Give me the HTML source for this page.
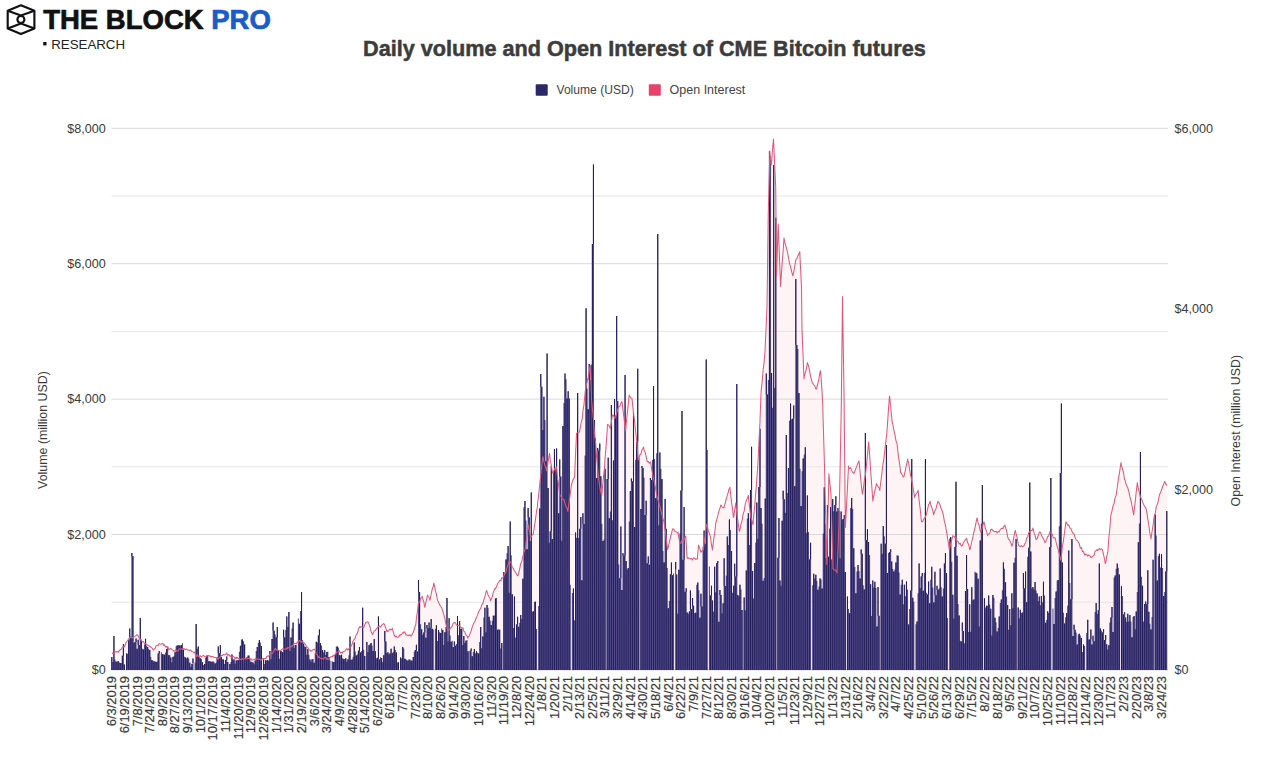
<!DOCTYPE html>
<html><head><meta charset="utf-8">
<style>
html,body{margin:0;padding:0;background:#fff;}
body{width:1280px;height:776px;overflow:hidden;position:relative;font-family:"Liberation Sans",sans-serif;}
svg{position:absolute;left:0;top:0;}
</style></head><body>
<svg width="1280" height="776" viewBox="0 0 1280 776" font-family="Liberation Sans, sans-serif">
<g fill="none" stroke="#111" stroke-width="2.15" stroke-linejoin="round">
<path d="M20.9 5.3 L34.4 10.8 L34.4 28.4 L20.9 34 L7.7 28.4 L7.7 10.8 Z"/>
<path d="M7.7 10.8 L20.9 15.4 L34.4 10.8"/>
<path d="M7.7 28.4 L20.9 23.6 L34.4 28.4"/>
<circle cx="20.9" cy="19.5" r="3.5"/>
</g>
<text x="43.2" y="29.3" font-size="27.5" font-weight="bold" fill="#111" stroke="#111" stroke-width="0.7">THE BLOCK <tspan fill="#1a5cc8" stroke="#1a5cc8">PRO</tspan></text>
<rect x="43.2" y="42" width="3.3" height="3.4" fill="#111"/>
<text x="51.2" y="48.7" font-size="13.3" fill="#222">RESEARCH</text>
<text x="644.4" y="55.6" font-size="21.65" font-weight="bold" fill="#3c3c3c" stroke="#3c3c3c" stroke-width="0.5" text-anchor="middle">Daily volume and Open Interest of CME Bitcoin futures</text>
<rect x="535.7" y="84.2" width="12" height="11.6" rx="1" fill="#2c2866"/>
<text x="556.5" y="94" font-size="12.5" fill="#444" textLength="77.2" lengthAdjust="spacingAndGlyphs">Volume (USD)</text>
<rect x="648.8" y="84.2" width="12" height="11.6" rx="1" fill="#e6426a"/>
<text x="669.6" y="94" font-size="12.5" fill="#444">Open Interest</text>
<path d="M111.8 653.0 L112.3 652.9 L112.9 653.8 L113.9 652.8 L115.0 651.5 L116.0 651.9 L117.1 651.4 L118.2 652.5 L119.2 650.5 L119.3 651.0 L120.3 649.6 L121.3 649.4 L122.4 647.0 L123.4 647.2 L124.0 646.4 L124.5 646.8 L125.5 644.0 L126.6 641.6 L127.6 640.5 L128.6 639.0 L128.7 639.1 L129.7 637.8 L130.8 637.4 L131.8 637.2 L132.3 638.0 L132.9 637.2 L134.0 636.9 L135.0 636.1 L136.1 635.5 L137.1 634.6 L137.8 635.3 L138.2 635.9 L139.2 638.2 L140.3 639.0 L141.3 640.4 L142.4 642.0 L142.5 641.8 L143.4 641.6 L144.5 643.5 L145.6 643.5 L146.6 644.4 L147.0 644.5 L147.7 645.3 L148.7 645.8 L149.8 646.3 L150.8 647.0 L151.9 647.8 L152.9 649.5 L153.6 650.0 L154.0 649.2 L155.0 648.5 L156.1 645.8 L157.1 645.5 L158.2 645.6 L158.3 644.5 L159.2 643.6 L160.3 644.3 L161.4 643.9 L162.4 643.2 L163.0 643.6 L163.5 645.4 L164.5 644.7 L165.6 647.0 L166.6 646.5 L167.5 648.3 L167.7 647.2 L168.7 649.7 L169.8 649.0 L170.8 648.4 L171.9 649.6 L172.9 650.1 L174.0 651.3 L175.0 651.0 L175.1 650.0 L176.1 650.0 L177.2 651.5 L178.2 650.7 L179.3 648.8 L180.3 649.0 L181.4 648.7 L182.4 649.2 L183.5 648.8 L184.0 648.3 L184.6 649.4 L185.6 649.6 L186.7 649.1 L187.7 650.0 L188.8 650.3 L189.8 650.6 L190.0 650.0 L190.9 650.3 L191.9 651.6 L193.0 651.8 L194.0 652.8 L194.6 652.0 L195.1 652.8 L195.6 655.7 L196.1 656.7 L197.2 654.4 L198.2 656.4 L199.3 655.9 L200.3 655.7 L201.4 656.9 L202.5 655.9 L203.5 655.5 L204.6 656.4 L205.6 656.7 L206.7 656.0 L207.7 655.4 L208.6 655.7 L208.8 655.6 L209.8 656.0 L210.9 657.0 L211.9 656.2 L213.0 656.8 L214.1 657.5 L215.1 657.4 L216.2 657.5 L217.2 659.1 L217.8 658.5 L218.3 659.1 L219.3 657.6 L220.4 656.9 L221.4 655.6 L222.5 655.4 L223.5 654.4 L224.6 654.9 L225.7 654.3 L226.2 653.8 L226.7 652.9 L227.8 655.5 L228.8 654.4 L229.9 656.2 L230.8 655.7 L230.9 656.6 L232.0 657.5 L233.0 656.0 L234.1 657.1 L235.1 658.9 L236.2 657.1 L236.4 658.5 L237.2 657.3 L238.3 658.7 L239.3 658.5 L240.4 659.6 L241.5 659.2 L242.5 658.6 L243.6 659.8 L244.6 658.5 L245.7 658.5 L245.7 658.5 L246.7 659.1 L247.8 658.4 L248.8 658.4 L249.9 659.2 L250.9 658.6 L252.0 660.3 L253.1 659.7 L254.1 659.4 L255.0 659.4 L255.2 658.3 L256.2 659.0 L257.3 658.9 L258.3 659.2 L259.4 659.2 L260.4 659.9 L261.5 660.0 L262.5 658.6 L263.6 658.4 L264.2 658.5 L264.6 658.5 L265.7 658.8 L266.8 656.3 L267.8 656.1 L268.9 656.1 L269.9 653.7 L270.0 654.5 L271.0 653.1 L272.0 653.7 L273.1 652.3 L274.1 650.4 L275.2 648.3 L275.6 648.9 L276.2 650.1 L277.3 649.7 L278.3 650.3 L279.4 650.9 L280.4 650.9 L281.2 650.0 L281.5 649.7 L282.6 648.8 L283.6 649.0 L284.7 649.3 L285.7 649.1 L286.8 648.1 L286.8 648.9 L287.8 647.4 L288.9 648.0 L289.9 647.3 L291.0 646.0 L292.0 647.0 L292.4 645.5 L293.1 645.4 L294.1 643.2 L295.2 643.5 L296.3 643.8 L297.3 641.9 L298.0 642.0 L298.4 642.4 L299.4 640.4 L300.5 640.9 L301.5 642.1 L302.5 641.0 L302.6 641.3 L303.6 642.9 L304.7 643.1 L305.7 645.3 L305.9 645.5 L306.8 646.9 L307.9 647.6 L308.9 650.0 L309.2 650.0 L310.0 650.1 L311.0 651.3 L312.1 650.2 L313.1 649.8 L314.2 649.0 L314.8 650.0 L315.2 650.1 L316.3 654.1 L317.3 654.8 L318.2 657.8 L318.4 656.8 L319.4 657.1 L320.5 658.1 L321.6 659.0 L322.6 658.6 L323.7 659.2 L323.8 658.4 L324.7 657.4 L325.8 657.4 L326.8 659.5 L327.9 658.5 L328.3 659.0 L328.9 659.2 L330.0 657.7 L331.0 656.7 L332.1 656.4 L332.7 656.7 L333.1 655.2 L334.2 656.2 L335.2 654.2 L336.3 652.5 L337.2 652.0 L337.4 651.9 L338.4 651.7 L339.5 650.8 L340.5 653.0 L341.6 652.2 L342.6 653.2 L342.8 652.0 L343.7 651.4 L344.7 651.2 L345.8 649.7 L346.9 648.6 L347.9 650.3 L348.4 648.9 L348.9 649.3 L350.0 647.5 L350.0 647.0 L351.1 646.4 L352.1 644.1 L353.2 640.7 L354.2 639.4 L355.3 638.2 L355.3 637.0 L356.3 634.6 L357.4 633.4 L358.4 629.2 L359.5 627.1 L359.9 626.5 L360.6 627.3 L361.6 626.5 L362.7 627.1 L363.1 627.8 L363.7 627.6 L364.8 624.5 L365.8 622.5 L365.8 623.3 L366.9 621.8 L367.9 621.7 L368.4 622.5 L369.0 623.9 L370.0 626.7 L371.1 631.9 L372.1 633.4 L372.3 634.4 L373.2 633.4 L374.2 630.8 L375.3 630.4 L376.3 629.0 L376.4 628.7 L377.4 628.0 L378.5 626.5 L379.5 626.0 L380.6 627.1 L381.6 625.2 L382.7 624.3 L383.7 623.5 L384.2 624.0 L384.8 625.2 L385.8 628.2 L386.8 631.7 L386.9 630.4 L387.9 631.5 L389.0 630.1 L390.1 629.1 L391.1 630.0 L392.0 629.0 L392.2 628.3 L393.2 631.4 L394.3 635.4 L395.3 637.0 L395.3 636.0 L396.4 636.5 L397.4 637.3 L398.5 636.9 L399.5 634.9 L399.9 635.7 L400.6 634.6 L401.6 634.5 L402.7 632.6 L403.8 633.0 L403.9 631.7 L404.8 631.9 L405.9 634.9 L406.9 634.8 L407.8 635.7 L408.0 635.0 L409.0 635.6 L410.1 634.7 L411.1 636.2 L411.7 635.7 L412.2 633.8 L413.2 632.6 L414.3 629.0 L415.4 625.6 L415.7 625.0 L416.4 618.7 L417.5 611.1 L418.3 604.0 L418.5 602.8 L419.6 602.5 L420.6 598.4 L421.7 597.4 L422.2 596.3 L422.7 598.5 L423.8 601.9 L424.8 607.3 L424.9 606.8 L425.9 602.0 L426.9 597.9 L427.5 595.0 L428.0 596.2 L429.1 597.7 L430.0 600.2 L430.1 599.4 L431.2 593.9 L432.2 589.3 L433.3 586.3 L433.8 583.0 L434.3 584.9 L435.4 590.7 L436.4 594.2 L437.5 600.2 L437.6 600.6 L438.5 602.1 L439.6 604.6 L440.6 606.2 L441.7 607.7 L442.6 610.7 L442.8 610.8 L443.8 614.7 L444.9 618.6 L445.9 624.3 L447.0 627.3 L447.7 630.8 L448.0 630.2 L449.1 630.2 L450.1 628.5 L451.2 627.5 L452.2 626.1 L453.3 622.9 L454.0 623.0 L454.3 622.6 L455.4 622.6 L456.4 624.9 L457.5 625.4 L458.6 625.2 L459.6 626.0 L460.7 627.2 L461.7 628.0 L462.7 628.0 L462.8 627.5 L463.8 631.2 L464.9 632.0 L465.9 634.9 L467.0 635.8 L467.8 638.3 L468.1 636.7 L469.1 636.3 L470.1 633.4 L471.2 630.9 L472.3 626.6 L473.3 624.2 L474.4 622.0 L475.3 620.7 L475.4 619.6 L476.5 617.4 L477.5 615.1 L478.6 611.8 L479.6 610.0 L480.7 608.3 L481.8 604.7 L482.8 603.0 L482.8 603.9 L483.9 599.7 L484.9 596.7 L486.0 592.0 L486.6 590.6 L487.0 591.5 L488.1 594.9 L489.1 596.8 L490.2 598.7 L490.4 600.6 L491.2 599.4 L492.3 596.6 L493.3 592.6 L494.4 589.4 L495.4 588.0 L495.4 588.9 L496.5 586.6 L497.6 583.6 L498.6 582.5 L499.7 580.6 L500.4 580.5 L500.7 580.8 L501.8 577.7 L502.8 578.0 L503.9 576.0 L504.9 572.8 L505.5 573.0 L506.0 571.9 L507.0 567.5 L508.1 564.8 L509.1 561.4 L509.2 560.4 L510.2 561.8 L511.3 563.4 L512.3 567.8 L513.0 568.0 L513.4 568.3 L514.4 571.2 L515.5 572.2 L516.5 573.9 L517.6 575.7 L518.0 575.5 L518.6 573.4 L519.7 568.8 L520.7 563.7 L521.8 561.2 L522.9 556.4 L523.9 552.5 L525.0 549.5 L525.7 545.5 L526.0 542.1 L527.1 535.3 L528.1 525.0 L528.3 524.7 L529.2 529.6 L530.2 535.1 L530.9 537.7 L531.3 536.3 L532.3 535.0 L533.4 533.9 L533.5 532.5 L534.4 526.6 L535.5 519.3 L536.5 511.5 L537.4 506.5 L537.6 503.5 L538.7 494.4 L539.7 484.6 L540.8 474.2 L541.0 472.8 L541.8 464.7 L542.7 457.0 L542.9 456.7 L543.9 461.9 L545.0 465.6 L546.0 468.3 L546.6 471.0 L547.1 467.4 L548.1 461.7 L549.2 455.1 L549.5 453.4 L550.2 459.5 L551.3 465.1 L552.4 472.0 L552.4 472.8 L553.4 472.3 L554.5 468.8 L555.5 468.3 L556.3 467.0 L556.6 468.7 L557.6 478.2 L558.7 485.8 L559.7 494.6 L560.0 496.0 L560.8 495.9 L561.8 498.3 L562.9 499.2 L564.0 499.8 L564.0 500.0 L565.0 503.6 L566.1 506.9 L567.1 508.1 L567.9 511.4 L568.2 508.9 L569.2 501.5 L570.3 493.5 L571.3 485.5 L571.7 484.0 L572.4 481.7 L573.4 478.8 L574.5 477.4 L574.6 476.6 L575.5 455.3 L576.5 434.0 L576.6 432.9 L577.6 432.8 L578.7 432.4 L579.4 432.0 L579.8 430.0 L580.8 424.6 L581.9 419.5 L582.3 418.6 L582.9 411.6 L584.0 404.3 L585.0 393.9 L585.2 391.6 L586.1 386.0 L587.1 382.2 L587.7 378.7 L588.2 377.6 L589.2 371.6 L590.3 365.5 L590.4 366.0 L591.4 394.5 L591.5 399.0 L592.4 408.9 L593.5 420.0 L594.5 432.7 L595.0 438.0 L595.6 443.1 L596.6 457.2 L597.7 468.3 L598.7 480.0 L598.8 480.5 L599.8 486.9 L600.8 491.8 L601.7 496.0 L601.9 493.4 L602.9 482.9 L604.0 472.1 L604.6 467.0 L605.0 459.1 L606.1 445.6 L607.2 430.3 L607.5 424.4 L608.2 424.8 L609.3 426.0 L610.3 428.6 L610.4 428.3 L611.4 422.3 L612.3 414.8 L612.4 416.1 L613.5 415.3 L614.5 418.2 L615.0 418.0 L615.6 417.1 L616.6 413.6 L617.7 409.3 L618.4 407.6 L618.8 406.2 L619.8 406.3 L620.9 403.3 L621.9 401.8 L622.0 402.0 L623.0 409.9 L624.0 418.0 L625.1 427.6 L625.6 431.0 L626.1 425.0 L627.2 414.0 L628.2 404.8 L629.2 395.0 L629.3 395.4 L630.4 397.3 L631.4 398.3 L632.0 398.5 L632.5 403.6 L633.5 413.2 L634.6 421.5 L635.6 431.0 L636.4 438.0 L636.7 440.4 L637.7 453.6 L638.2 460.0 L638.8 458.8 L639.8 455.0 L640.9 454.0 L641.9 450.1 L643.0 448.3 L643.6 447.0 L644.0 450.0 L645.1 452.1 L646.1 456.2 L647.2 461.7 L647.2 461.5 L648.3 461.4 L649.3 463.3 L650.4 462.0 L650.8 463.5 L651.4 467.7 L652.5 473.3 L653.5 478.7 L654.6 483.4 L655.6 488.6 L656.7 495.1 L657.2 497.4 L657.8 499.4 L658.8 502.9 L659.9 506.5 L660.9 510.5 L662.0 514.9 L663.0 519.0 L664.0 521.7 L664.1 523.3 L665.1 529.5 L666.2 538.1 L667.2 546.6 L667.6 549.6 L668.3 547.0 L669.3 542.2 L670.4 537.6 L671.5 533.1 L672.5 529.4 L672.8 528.7 L673.6 529.1 L674.6 531.1 L675.7 531.6 L676.7 532.1 L677.8 533.1 L678.0 532.0 L678.8 537.7 L679.9 542.6 L680.0 543.0 L680.9 543.2 L682.0 540.5 L683.0 541.4 L683.5 540.6 L684.1 539.7 L685.1 536.8 L685.8 536.0 L686.2 543.2 L687.0 557.0 L687.3 558.3 L688.3 557.7 L689.4 558.8 L690.4 559.0 L690.4 558.5 L691.5 558.6 L692.5 560.0 L693.6 557.8 L694.6 558.2 L695.7 559.5 L696.7 558.9 L697.4 559.0 L697.8 553.3 L698.6 545.0 L698.9 546.2 L699.9 548.6 L700.9 552.0 L701.0 552.2 L702.0 550.8 L703.1 550.2 L703.2 550.0 L704.1 543.4 L705.2 535.3 L706.2 526.9 L706.7 524.4 L707.3 525.5 L708.3 530.8 L709.4 533.4 L710.2 536.0 L710.4 536.5 L711.5 544.8 L712.5 550.0 L712.5 549.0 L713.6 540.1 L714.7 532.8 L715.7 523.7 L716.0 522.0 L716.8 519.3 L717.8 515.7 L718.9 511.2 L719.9 508.4 L720.6 505.8 L721.0 505.0 L722.0 506.8 L723.1 507.6 L724.0 508.0 L724.1 506.4 L725.2 503.3 L726.2 498.5 L726.4 499.0 L727.3 495.1 L728.4 491.9 L728.7 489.6 L729.4 488.4 L729.9 487.3 L730.5 492.7 L731.5 501.9 L732.6 509.3 L733.4 517.4 L733.6 517.3 L734.7 510.2 L735.7 503.5 L735.7 502.8 L736.8 513.0 L737.8 520.3 L738.9 528.1 L739.2 531.4 L740.0 529.5 L741.0 524.1 L742.1 520.3 L742.6 517.4 L743.1 514.1 L744.2 510.9 L745.2 504.1 L746.1 501.2 L746.3 500.2 L747.3 498.4 L748.4 495.4 L748.4 496.6 L749.4 505.8 L750.5 514.0 L750.8 517.4 L751.5 519.2 L752.6 523.7 L753.0 524.4 L753.6 516.7 L754.7 505.6 L755.4 496.6 L755.8 492.2 L756.8 479.0 L757.7 466.4 L757.9 463.2 L758.9 442.8 L760.0 421.5 L760.0 420.0 L761.0 393.9 L761.2 390.6 L762.1 382.3 L763.1 370.5 L764.2 360.9 L765.0 352.0 L765.2 346.8 L766.3 323.0 L767.0 306.0 L767.4 278.7 L768.2 216.6 L768.4 207.8 L769.5 165.5 L769.8 151.0 L770.5 158.8 L771.3 165.0 L771.6 162.4 L772.6 148.2 L773.5 139.0 L773.7 143.1 L774.7 164.8 L775.7 187.0 L775.8 196.5 L776.5 276.0 L776.8 266.5 L777.9 232.4 L778.2 224.0 L779.0 244.5 L780.0 271.3 L780.6 286.5 L781.0 279.4 L782.1 264.1 L783.2 249.7 L784.0 237.8 L784.2 239.7 L785.3 243.8 L786.3 247.4 L787.4 252.0 L788.4 257.0 L789.3 262.0 L789.5 263.5 L790.5 266.1 L791.6 271.3 L792.6 274.8 L792.8 276.0 L793.7 272.0 L794.8 266.0 L795.8 260.2 L796.3 258.7 L796.9 258.6 L797.9 255.6 L799.0 253.9 L799.8 251.7 L800.0 257.1 L801.1 279.0 L801.5 286.5 L802.0 329.5 L802.1 331.5 L803.2 358.4 L804.0 379.0 L804.2 376.9 L805.3 372.7 L806.4 368.6 L807.4 362.5 L807.4 363.3 L808.5 365.6 L809.5 370.3 L810.6 376.3 L811.6 380.3 L812.4 383.0 L812.7 383.1 L813.7 384.9 L814.8 385.6 L815.8 388.9 L816.5 389.0 L816.9 387.0 L817.9 383.5 L819.0 378.2 L820.0 372.1 L820.6 370.7 L821.1 378.1 L822.2 394.4 L822.7 403.7 L823.2 422.6 L824.3 458.7 L824.7 473.8 L825.3 499.3 L826.4 545.1 L826.8 564.5 L827.4 537.1 L828.5 491.9 L828.9 473.8 L829.5 480.2 L830.6 490.1 L831.0 494.4 L831.6 517.8 L832.7 556.1 L833.0 568.7 L833.8 569.7 L834.8 570.1 L835.9 570.4 L836.9 572.6 L837.0 572.8 L838.0 550.2 L839.0 523.3 L839.0 521.2 L840.1 468.2 L841.1 416.2 L841.2 412.0 L842.2 324.4 L842.5 296.5 L843.2 342.3 L844.0 391.3 L844.3 419.2 L845.3 521.1 L845.4 527.4 L846.4 507.9 L847.5 486.9 L848.5 466.0 L848.5 467.2 L849.6 468.7 L850.6 467.6 L851.7 470.4 L852.7 472.4 L853.7 473.0 L853.8 473.8 L854.8 471.2 L855.9 468.4 L856.9 466.0 L858.0 462.9 L859.0 461.0 L859.0 460.8 L860.1 472.4 L861.1 482.8 L862.2 493.2 L862.4 494.0 L863.3 488.7 L864.3 480.5 L865.4 474.6 L866.0 469.6 L866.4 465.9 L867.5 454.4 L868.5 443.8 L868.7 441.7 L869.6 454.1 L870.6 469.8 L871.7 484.7 L872.7 499.0 L872.8 501.0 L873.8 495.6 L874.9 490.3 L875.9 486.7 L876.3 483.5 L877.0 484.7 L878.0 486.5 L879.1 488.3 L879.8 490.4 L880.1 487.2 L881.2 479.1 L882.2 470.2 L883.3 461.5 L883.3 462.6 L884.3 455.1 L885.4 445.4 L886.4 436.8 L886.7 434.8 L887.5 423.9 L888.5 408.6 L889.5 396.0 L889.6 396.2 L890.7 406.5 L891.7 417.6 L892.0 421.0 L892.8 424.0 L893.8 430.0 L894.9 434.4 L895.9 440.3 L897.0 443.6 L897.2 445.0 L898.0 452.8 L899.1 460.3 L900.1 467.5 L900.7 473.0 L901.2 472.7 L902.2 474.9 L903.3 477.0 L904.0 476.5 L904.4 474.4 L905.4 470.3 L906.5 464.3 L907.5 460.3 L907.6 459.0 L908.6 462.9 L909.6 469.4 L910.7 475.9 L911.0 476.5 L911.7 480.2 L912.8 486.3 L913.8 491.8 L914.6 497.4 L914.9 495.9 L916.0 494.0 L917.0 493.0 L918.0 490.4 L918.1 490.2 L919.1 500.1 L920.2 509.0 L921.2 519.5 L921.5 521.7 L922.3 521.8 L923.3 520.2 L924.4 517.9 L925.0 518.0 L925.4 517.1 L926.5 514.1 L927.5 509.6 L928.6 504.7 L929.6 503.0 L930.0 501.0 L930.7 504.6 L931.8 507.2 L932.8 510.6 L933.7 514.8 L933.9 513.4 L934.9 511.0 L936.0 508.5 L937.0 504.5 L938.0 501.0 L938.1 502.3 L939.1 502.8 L940.2 505.5 L941.2 509.0 L942.3 511.2 L942.4 511.0 L943.4 515.4 L944.4 521.3 L945.5 525.6 L946.0 528.7 L946.5 530.8 L947.6 538.4 L948.6 544.1 L949.3 549.6 L949.7 548.4 L950.7 543.5 L951.8 539.7 L952.8 535.7 L952.8 536.0 L953.9 536.1 L955.0 537.6 L956.0 537.5 L956.3 539.0 L957.0 541.1 L958.1 541.6 L959.2 544.1 L960.2 543.1 L961.3 546.0 L961.5 546.0 L962.3 545.5 L963.4 543.0 L964.4 541.0 L965.5 539.7 L966.5 538.3 L966.7 539.0 L967.6 542.6 L968.6 544.2 L969.7 549.5 L970.0 549.6 L970.8 546.0 L971.8 541.5 L972.9 536.9 L973.9 532.1 L975.0 527.6 L976.0 522.7 L977.0 518.0 L977.1 517.9 L978.1 522.9 L979.2 525.6 L980.2 530.8 L980.7 532.0 L981.3 530.8 L982.4 527.6 L983.4 523.1 L984.0 521.7 L984.5 524.2 L985.5 528.8 L986.6 531.5 L987.6 535.7 L987.6 535.1 L988.7 534.0 L989.7 533.3 L990.8 529.4 L991.0 530.0 L991.8 529.0 L992.9 530.5 L993.9 531.2 L995.0 531.9 L996.0 531.1 L997.1 533.0 L998.0 532.0 L998.2 531.2 L999.2 531.9 L1000.3 529.4 L1001.3 528.6 L1002.4 528.2 L1003.0 528.7 L1003.4 526.8 L1004.5 526.0 L1005.0 525.0 L1005.5 527.3 L1006.6 530.5 L1007.6 536.7 L1008.5 539.0 L1008.7 539.0 L1009.8 540.6 L1010.8 542.8 L1011.9 546.3 L1012.0 546.0 L1012.9 542.9 L1014.0 536.2 L1015.0 531.0 L1015.4 530.5 L1016.1 534.1 L1017.1 537.3 L1018.2 543.7 L1019.0 546.0 L1019.2 546.0 L1020.3 546.4 L1021.3 545.6 L1022.4 546.8 L1023.5 545.9 L1024.0 546.0 L1024.5 544.2 L1025.6 543.0 L1026.6 538.2 L1027.7 537.1 L1028.7 532.6 L1029.4 532.0 L1029.8 532.0 L1030.8 530.4 L1031.9 530.5 L1032.8 528.7 L1032.9 528.0 L1034.0 532.4 L1035.0 535.1 L1036.1 539.5 L1036.3 539.0 L1037.2 538.5 L1038.2 535.5 L1039.3 532.4 L1039.8 532.0 L1040.3 532.4 L1041.4 534.6 L1042.4 537.2 L1043.5 538.9 L1044.5 541.0 L1045.0 542.7 L1045.6 542.1 L1046.6 539.6 L1047.7 536.4 L1048.7 536.0 L1049.8 531.7 L1050.0 532.0 L1050.8 533.3 L1051.9 533.5 L1053.0 536.7 L1054.0 538.1 L1055.1 537.8 L1055.5 539.0 L1056.1 542.2 L1057.2 546.6 L1058.2 549.5 L1059.3 553.8 L1060.3 558.5 L1060.7 560.0 L1061.4 556.0 L1062.4 546.5 L1063.5 540.3 L1064.5 532.5 L1065.6 524.5 L1066.0 521.8 L1066.7 522.9 L1067.7 525.2 L1068.8 524.9 L1069.8 528.1 L1070.9 528.2 L1071.0 528.7 L1071.9 531.2 L1073.0 533.5 L1074.0 533.8 L1074.6 535.7 L1075.1 537.6 L1076.2 540.0 L1077.2 540.3 L1078.2 541.7 L1079.3 544.0 L1079.8 546.0 L1080.4 548.2 L1081.4 547.5 L1082.5 551.7 L1083.5 551.5 L1084.6 554.9 L1085.0 555.0 L1085.6 554.1 L1086.7 554.5 L1087.7 556.1 L1088.8 554.8 L1089.8 555.7 L1090.9 557.4 L1092.0 557.2 L1092.0 556.6 L1093.0 556.2 L1094.1 555.1 L1095.1 551.2 L1096.2 550.3 L1097.2 549.6 L1097.2 550.4 L1098.3 550.1 L1099.3 548.4 L1100.4 549.6 L1101.4 548.9 L1102.4 549.6 L1102.5 549.9 L1103.5 554.3 L1104.6 559.3 L1105.2 563.5 L1105.7 562.8 L1106.7 556.4 L1107.6 553.0 L1107.8 552.2 L1108.8 538.3 L1109.9 527.5 L1110.9 514.7 L1111.0 514.8 L1112.0 510.8 L1113.0 506.0 L1114.1 503.2 L1115.1 497.6 L1116.2 495.0 L1116.3 494.0 L1117.2 487.7 L1118.3 479.6 L1119.4 473.2 L1120.4 466.5 L1121.0 462.6 L1121.5 465.7 L1122.5 468.8 L1123.6 473.0 L1124.6 479.6 L1125.0 480.0 L1125.7 483.0 L1126.7 485.8 L1127.8 487.8 L1128.5 490.5 L1128.8 491.3 L1129.9 496.4 L1131.0 500.8 L1132.0 505.7 L1133.1 511.8 L1133.7 514.8 L1134.1 510.9 L1135.2 501.9 L1136.2 491.9 L1137.2 483.5 L1137.3 482.5 L1138.3 488.5 L1139.4 492.6 L1140.4 496.5 L1140.7 497.4 L1141.5 499.1 L1142.5 501.6 L1143.6 504.4 L1144.7 506.3 L1145.7 508.0 L1146.0 508.0 L1146.8 512.4 L1147.8 518.8 L1148.9 525.5 L1149.9 533.5 L1151.0 538.5 L1151.0 539.0 L1152.0 531.8 L1153.1 524.8 L1154.1 517.0 L1154.6 514.8 L1155.2 513.7 L1156.2 506.9 L1157.3 504.3 L1158.3 500.9 L1159.4 494.9 L1159.8 494.0 L1160.5 492.7 L1161.5 489.7 L1162.6 486.8 L1163.6 484.3 L1164.7 481.6 L1165.0 481.8 L1165.7 483.9 L1166.8 485.4 L1167.0 485.0 L1167.0 669.9 L111.8 669.9 Z" fill="#fdebef" fill-opacity="0.6" stroke="none"/>
<line x1="111.5" x2="1168" y1="602.2" y2="602.2" stroke="#e6e6e6" stroke-width="1"/>
<line x1="111.5" x2="1168" y1="534.5" y2="534.5" stroke="#d9d9d9" stroke-width="1"/>
<line x1="111.5" x2="1168" y1="466.8" y2="466.8" stroke="#e6e6e6" stroke-width="1"/>
<line x1="111.5" x2="1168" y1="399.1" y2="399.1" stroke="#d9d9d9" stroke-width="1"/>
<line x1="111.5" x2="1168" y1="331.4" y2="331.4" stroke="#e6e6e6" stroke-width="1"/>
<line x1="111.5" x2="1168" y1="263.7" y2="263.7" stroke="#d9d9d9" stroke-width="1"/>
<line x1="111.5" x2="1168" y1="196.0" y2="196.0" stroke="#e6e6e6" stroke-width="1"/>
<line x1="111.5" x2="1168" y1="128.3" y2="128.3" stroke="#d9d9d9" stroke-width="1"/>
<line x1="111.5" x2="1168" y1="669.9" y2="669.9" stroke="#c8c8c8" stroke-width="1"/>
<path d="M111.30 669.9h1.05V657.0h-1.05zM112.35 669.9h1.05V661.9h-1.05zM113.41 669.9h1.05V636.0h-1.05zM114.46 669.9h1.05V659.5h-1.05zM115.52 669.9h1.05V661.4h-1.05zM116.57 669.9h1.05V662.1h-1.05zM117.62 669.9h1.05V661.0h-1.05zM118.68 669.9h1.05V662.3h-1.05zM119.73 669.9h1.05V663.1h-1.05zM120.79 669.9h1.05V662.9h-1.05zM121.84 669.9h1.05V655.8h-1.05zM122.89 669.9h1.05V644.0h-1.05zM123.95 669.9h1.05V664.5h-1.05zM126.05 669.9h1.05V653.6h-1.05zM127.11 669.9h1.05V653.7h-1.05zM128.16 669.9h1.05V640.2h-1.05zM129.22 669.9h1.05V628.6h-1.05zM130.27 669.9h1.05V636.8h-1.05zM131.32 669.9h1.05V553.0h-1.05zM132.38 669.9h1.05V556.0h-1.05zM133.43 669.9h1.05V643.1h-1.05zM134.49 669.9h1.05V642.0h-1.05zM135.54 669.9h1.05V638.4h-1.05zM136.59 669.9h1.05V648.8h-1.05zM137.65 669.9h1.05V639.8h-1.05zM138.70 669.9h1.05V645.0h-1.05zM139.76 669.9h1.05V618.0h-1.05zM140.81 669.9h1.05V639.7h-1.05zM141.86 669.9h1.05V648.8h-1.05zM142.92 669.9h1.05V649.4h-1.05zM143.97 669.9h1.05V644.4h-1.05zM145.02 669.9h1.05V638.7h-1.05zM146.08 669.9h1.05V645.8h-1.05zM147.13 669.9h1.05V647.0h-1.05zM148.19 669.9h1.05V649.0h-1.05zM149.24 669.9h1.05V650.1h-1.05zM150.29 669.9h1.05V657.1h-1.05zM151.35 669.9h1.05V659.9h-1.05zM152.40 669.9h1.05V660.6h-1.05zM153.46 669.9h1.05V661.5h-1.05zM154.51 669.9h1.05V660.9h-1.05zM155.56 669.9h1.05V662.0h-1.05zM156.62 669.9h1.05V661.6h-1.05zM157.67 669.9h1.05V653.4h-1.05zM158.73 669.9h1.05V651.0h-1.05zM160.83 669.9h1.05V652.3h-1.05zM161.89 669.9h1.05V654.3h-1.05zM162.94 669.9h1.05V654.2h-1.05zM164.00 669.9h1.05V654.8h-1.05zM165.05 669.9h1.05V652.5h-1.05zM166.10 669.9h1.05V649.1h-1.05zM167.16 669.9h1.05V646.7h-1.05zM168.21 669.9h1.05V655.3h-1.05zM169.26 669.9h1.05V654.9h-1.05zM170.32 669.9h1.05V657.5h-1.05zM171.37 669.9h1.05V662.3h-1.05zM172.43 669.9h1.05V656.9h-1.05zM173.48 669.9h1.05V655.9h-1.05zM174.53 669.9h1.05V652.3h-1.05zM175.59 669.9h1.05V646.2h-1.05zM176.64 669.9h1.05V645.4h-1.05zM177.70 669.9h1.05V644.9h-1.05zM178.75 669.9h1.05V645.4h-1.05zM179.80 669.9h1.05V645.4h-1.05zM180.86 669.9h1.05V645.0h-1.05zM181.91 669.9h1.05V643.3h-1.05zM182.97 669.9h1.05V649.7h-1.05zM184.02 669.9h1.05V656.8h-1.05zM185.07 669.9h1.05V657.6h-1.05zM186.13 669.9h1.05V658.3h-1.05zM187.18 669.9h1.05V657.6h-1.05zM188.23 669.9h1.05V658.7h-1.05zM189.29 669.9h1.05V662.8h-1.05zM190.34 669.9h1.05V666.9h-1.05zM191.40 669.9h1.05V664.1h-1.05zM192.45 669.9h1.05V658.4h-1.05zM194.56 669.9h1.05V662.5h-1.05zM195.61 669.9h1.05V624.0h-1.05zM196.67 669.9h1.05V648.8h-1.05zM197.72 669.9h1.05V646.5h-1.05zM198.77 669.9h1.05V656.6h-1.05zM199.83 669.9h1.05V658.2h-1.05zM200.88 669.9h1.05V659.1h-1.05zM201.94 669.9h1.05V662.3h-1.05zM202.99 669.9h1.05V665.1h-1.05zM204.04 669.9h1.05V664.1h-1.05zM205.10 669.9h1.05V657.8h-1.05zM206.15 669.9h1.05V655.8h-1.05zM207.20 669.9h1.05V655.7h-1.05zM208.26 669.9h1.05V661.3h-1.05zM209.31 669.9h1.05V660.9h-1.05zM210.37 669.9h1.05V661.4h-1.05zM211.42 669.9h1.05V661.9h-1.05zM212.47 669.9h1.05V661.6h-1.05zM213.53 669.9h1.05V662.2h-1.05zM214.58 669.9h1.05V663.5h-1.05zM215.64 669.9h1.05V662.5h-1.05zM216.69 669.9h1.05V657.6h-1.05zM217.74 669.9h1.05V646.5h-1.05zM218.80 669.9h1.05V653.2h-1.05zM219.85 669.9h1.05V644.9h-1.05zM220.91 669.9h1.05V657.2h-1.05zM221.96 669.9h1.05V659.2h-1.05zM223.01 669.9h1.05V659.4h-1.05zM224.07 669.9h1.05V663.9h-1.05zM225.12 669.9h1.05V660.0h-1.05zM226.18 669.9h1.05V656.6h-1.05zM227.23 669.9h1.05V662.1h-1.05zM229.34 669.9h1.05V664.0h-1.05zM230.39 669.9h1.05V662.0h-1.05zM231.44 669.9h1.05V654.4h-1.05zM232.50 669.9h1.05V659.4h-1.05zM233.55 669.9h1.05V659.5h-1.05zM234.61 669.9h1.05V663.7h-1.05zM235.66 669.9h1.05V660.5h-1.05zM236.71 669.9h1.05V660.0h-1.05zM237.77 669.9h1.05V660.3h-1.05zM238.82 669.9h1.05V651.7h-1.05zM239.88 669.9h1.05V645.7h-1.05zM240.93 669.9h1.05V639.4h-1.05zM241.98 669.9h1.05V639.4h-1.05zM243.04 669.9h1.05V641.3h-1.05zM244.09 669.9h1.05V644.5h-1.05zM245.15 669.9h1.05V658.4h-1.05zM246.20 669.9h1.05V657.6h-1.05zM247.25 669.9h1.05V655.5h-1.05zM248.31 669.9h1.05V655.5h-1.05zM249.36 669.9h1.05V658.9h-1.05zM250.41 669.9h1.05V661.7h-1.05zM251.47 669.9h1.05V662.0h-1.05zM252.52 669.9h1.05V662.4h-1.05zM253.58 669.9h1.05V664.2h-1.05zM254.63 669.9h1.05V660.5h-1.05zM255.68 669.9h1.05V651.1h-1.05zM256.74 669.9h1.05V646.9h-1.05zM257.79 669.9h1.05V642.7h-1.05zM258.85 669.9h1.05V640.0h-1.05zM259.90 669.9h1.05V642.6h-1.05zM260.95 669.9h1.05V646.0h-1.05zM263.06 669.9h1.05V659.4h-1.05zM264.12 669.9h1.05V664.0h-1.05zM265.17 669.9h1.05V660.2h-1.05zM266.22 669.9h1.05V660.6h-1.05zM267.28 669.9h1.05V659.9h-1.05zM268.33 669.9h1.05V661.3h-1.05zM269.38 669.9h1.05V651.0h-1.05zM270.44 669.9h1.05V659.2h-1.05zM271.49 669.9h1.05V638.9h-1.05zM272.55 669.9h1.05V622.6h-1.05zM273.60 669.9h1.05V630.7h-1.05zM274.65 669.9h1.05V634.6h-1.05zM275.71 669.9h1.05V637.2h-1.05zM276.76 669.9h1.05V627.0h-1.05zM277.82 669.9h1.05V649.9h-1.05zM278.87 669.9h1.05V658.8h-1.05zM279.92 669.9h1.05V650.5h-1.05zM280.98 669.9h1.05V650.9h-1.05zM282.03 669.9h1.05V652.3h-1.05zM283.09 669.9h1.05V629.8h-1.05zM284.14 669.9h1.05V637.6h-1.05zM285.19 669.9h1.05V630.0h-1.05zM286.25 669.9h1.05V616.5h-1.05zM287.30 669.9h1.05V626.7h-1.05zM288.36 669.9h1.05V612.0h-1.05zM289.41 669.9h1.05V650.9h-1.05zM290.46 669.9h1.05V637.5h-1.05zM291.52 669.9h1.05V628.6h-1.05zM292.57 669.9h1.05V622.6h-1.05zM293.62 669.9h1.05V648.1h-1.05zM294.68 669.9h1.05V645.1h-1.05zM295.73 669.9h1.05V644.8h-1.05zM297.84 669.9h1.05V618.5h-1.05zM298.89 669.9h1.05V623.8h-1.05zM299.95 669.9h1.05V611.0h-1.05zM301.00 669.9h1.05V592.0h-1.05zM302.06 669.9h1.05V640.1h-1.05zM303.11 669.9h1.05V643.7h-1.05zM304.16 669.9h1.05V646.6h-1.05zM305.22 669.9h1.05V647.0h-1.05zM306.27 669.9h1.05V654.7h-1.05zM307.33 669.9h1.05V649.0h-1.05zM308.38 669.9h1.05V654.7h-1.05zM309.43 669.9h1.05V659.4h-1.05zM310.49 669.9h1.05V661.5h-1.05zM311.54 669.9h1.05V659.2h-1.05zM312.59 669.9h1.05V658.9h-1.05zM313.65 669.9h1.05V662.8h-1.05zM314.70 669.9h1.05V652.9h-1.05zM315.76 669.9h1.05V641.8h-1.05zM316.81 669.9h1.05V642.4h-1.05zM317.86 669.9h1.05V635.6h-1.05zM318.92 669.9h1.05V629.6h-1.05zM319.97 669.9h1.05V643.2h-1.05zM321.03 669.9h1.05V645.4h-1.05zM322.08 669.9h1.05V649.9h-1.05zM323.13 669.9h1.05V652.4h-1.05zM324.19 669.9h1.05V650.2h-1.05zM325.24 669.9h1.05V655.1h-1.05zM326.30 669.9h1.05V652.1h-1.05zM327.35 669.9h1.05V651.4h-1.05zM328.40 669.9h1.05V657.0h-1.05zM329.46 669.9h1.05V660.5h-1.05zM331.57 669.9h1.05V660.9h-1.05zM332.62 669.9h1.05V662.0h-1.05zM333.67 669.9h1.05V662.1h-1.05zM334.73 669.9h1.05V654.6h-1.05zM335.78 669.9h1.05V646.4h-1.05zM336.83 669.9h1.05V646.5h-1.05zM337.89 669.9h1.05V647.5h-1.05zM338.94 669.9h1.05V655.3h-1.05zM340.00 669.9h1.05V655.3h-1.05zM341.05 669.9h1.05V654.8h-1.05zM342.10 669.9h1.05V658.2h-1.05zM343.16 669.9h1.05V659.0h-1.05zM344.21 669.9h1.05V658.9h-1.05zM345.27 669.9h1.05V658.2h-1.05zM346.32 669.9h1.05V661.7h-1.05zM347.37 669.9h1.05V659.3h-1.05zM348.43 669.9h1.05V655.2h-1.05zM349.48 669.9h1.05V636.5h-1.05zM350.54 669.9h1.05V660.1h-1.05zM351.59 669.9h1.05V659.6h-1.05zM352.64 669.9h1.05V656.8h-1.05zM353.70 669.9h1.05V642.4h-1.05zM354.75 669.9h1.05V651.6h-1.05zM355.80 669.9h1.05V655.5h-1.05zM356.86 669.9h1.05V654.6h-1.05zM357.91 669.9h1.05V650.7h-1.05zM358.97 669.9h1.05V647.0h-1.05zM360.02 669.9h1.05V652.4h-1.05zM361.07 669.9h1.05V651.0h-1.05zM362.13 669.9h1.05V607.8h-1.05zM363.18 669.9h1.05V649.7h-1.05zM364.24 669.9h1.05V656.1h-1.05zM366.34 669.9h1.05V642.0h-1.05zM367.40 669.9h1.05V652.1h-1.05zM368.45 669.9h1.05V645.2h-1.05zM369.51 669.9h1.05V644.1h-1.05zM370.56 669.9h1.05V643.1h-1.05zM371.61 669.9h1.05V645.4h-1.05zM372.67 669.9h1.05V650.9h-1.05zM373.72 669.9h1.05V638.9h-1.05zM374.78 669.9h1.05V651.3h-1.05zM375.83 669.9h1.05V658.3h-1.05zM376.88 669.9h1.05V657.7h-1.05zM377.94 669.9h1.05V616.5h-1.05zM378.99 669.9h1.05V659.5h-1.05zM380.04 669.9h1.05V657.3h-1.05zM381.10 669.9h1.05V658.0h-1.05zM382.15 669.9h1.05V661.9h-1.05zM383.21 669.9h1.05V655.3h-1.05zM384.26 669.9h1.05V631.0h-1.05zM385.31 669.9h1.05V641.5h-1.05zM386.37 669.9h1.05V653.1h-1.05zM387.42 669.9h1.05V652.3h-1.05zM388.48 669.9h1.05V654.6h-1.05zM389.53 669.9h1.05V653.2h-1.05zM390.58 669.9h1.05V648.7h-1.05zM391.64 669.9h1.05V653.3h-1.05zM392.69 669.9h1.05V651.9h-1.05zM393.75 669.9h1.05V646.4h-1.05zM394.80 669.9h1.05V649.9h-1.05zM395.85 669.9h1.05V652.4h-1.05zM396.91 669.9h1.05V662.4h-1.05zM397.96 669.9h1.05V662.3h-1.05zM400.07 669.9h1.05V657.6h-1.05zM401.12 669.9h1.05V658.5h-1.05zM402.18 669.9h1.05V647.1h-1.05zM403.23 669.9h1.05V648.6h-1.05zM404.28 669.9h1.05V658.7h-1.05zM405.34 669.9h1.05V659.0h-1.05zM406.39 669.9h1.05V660.3h-1.05zM407.45 669.9h1.05V660.9h-1.05zM408.50 669.9h1.05V659.6h-1.05zM409.55 669.9h1.05V659.4h-1.05zM410.61 669.9h1.05V660.5h-1.05zM411.66 669.9h1.05V660.7h-1.05zM412.72 669.9h1.05V657.0h-1.05zM413.77 669.9h1.05V651.6h-1.05zM414.82 669.9h1.05V650.0h-1.05zM415.88 669.9h1.05V644.8h-1.05zM416.93 669.9h1.05V651.4h-1.05zM417.98 669.9h1.05V580.0h-1.05zM419.04 669.9h1.05V592.0h-1.05zM420.09 669.9h1.05V624.3h-1.05zM421.15 669.9h1.05V629.3h-1.05zM422.20 669.9h1.05V634.8h-1.05zM423.25 669.9h1.05V632.6h-1.05zM424.31 669.9h1.05V622.3h-1.05zM425.36 669.9h1.05V637.8h-1.05zM426.42 669.9h1.05V625.1h-1.05zM427.47 669.9h1.05V628.3h-1.05zM428.52 669.9h1.05V622.6h-1.05zM429.58 669.9h1.05V627.8h-1.05zM430.63 669.9h1.05V619.0h-1.05zM431.69 669.9h1.05V628.8h-1.05zM432.74 669.9h1.05V629.4h-1.05zM434.85 669.9h1.05V628.8h-1.05zM435.90 669.9h1.05V625.3h-1.05zM436.96 669.9h1.05V641.1h-1.05zM438.01 669.9h1.05V630.0h-1.05zM439.06 669.9h1.05V632.3h-1.05zM440.12 669.9h1.05V632.9h-1.05zM441.17 669.9h1.05V628.5h-1.05zM442.22 669.9h1.05V630.0h-1.05zM443.28 669.9h1.05V645.0h-1.05zM444.33 669.9h1.05V632.3h-1.05zM445.39 669.9h1.05V626.9h-1.05zM446.44 669.9h1.05V598.0h-1.05zM447.49 669.9h1.05V641.2h-1.05zM448.55 669.9h1.05V618.2h-1.05zM449.60 669.9h1.05V635.6h-1.05zM450.66 669.9h1.05V641.7h-1.05zM451.71 669.9h1.05V640.8h-1.05zM452.76 669.9h1.05V646.9h-1.05zM453.82 669.9h1.05V641.6h-1.05zM454.87 669.9h1.05V645.7h-1.05zM455.93 669.9h1.05V643.9h-1.05zM456.98 669.9h1.05V616.0h-1.05zM458.03 669.9h1.05V635.3h-1.05zM459.09 669.9h1.05V620.9h-1.05zM460.14 669.9h1.05V628.8h-1.05zM461.19 669.9h1.05V628.8h-1.05zM462.25 669.9h1.05V644.9h-1.05zM463.30 669.9h1.05V636.0h-1.05zM464.36 669.9h1.05V643.0h-1.05zM465.41 669.9h1.05V640.8h-1.05zM466.46 669.9h1.05V640.0h-1.05zM467.52 669.9h1.05V651.2h-1.05zM469.63 669.9h1.05V650.8h-1.05zM470.68 669.9h1.05V648.6h-1.05zM471.73 669.9h1.05V656.2h-1.05zM472.79 669.9h1.05V652.1h-1.05zM473.84 669.9h1.05V649.1h-1.05zM474.90 669.9h1.05V653.2h-1.05zM475.95 669.9h1.05V651.3h-1.05zM477.00 669.9h1.05V652.8h-1.05zM478.06 669.9h1.05V653.4h-1.05zM479.11 669.9h1.05V642.0h-1.05zM480.17 669.9h1.05V627.0h-1.05zM481.22 669.9h1.05V648.3h-1.05zM482.27 669.9h1.05V636.5h-1.05zM483.33 669.9h1.05V617.4h-1.05zM484.38 669.9h1.05V607.8h-1.05zM485.43 669.9h1.05V632.2h-1.05zM486.49 669.9h1.05V605.0h-1.05zM487.54 669.9h1.05V607.8h-1.05zM488.60 669.9h1.05V616.7h-1.05zM489.65 669.9h1.05V620.5h-1.05zM490.70 669.9h1.05V625.0h-1.05zM491.76 669.9h1.05V620.7h-1.05zM492.81 669.9h1.05V615.7h-1.05zM493.87 669.9h1.05V615.4h-1.05zM494.92 669.9h1.05V598.4h-1.05zM495.97 669.9h1.05V598.0h-1.05zM497.03 669.9h1.05V629.7h-1.05zM498.08 669.9h1.05V629.2h-1.05zM499.14 669.9h1.05V629.8h-1.05zM500.19 669.9h1.05V648.6h-1.05zM501.24 669.9h1.05V643.0h-1.05zM503.35 669.9h1.05V572.0h-1.05zM504.40 669.9h1.05V574.0h-1.05zM505.46 669.9h1.05V559.4h-1.05zM506.51 669.9h1.05V553.3h-1.05zM507.57 669.9h1.05V546.0h-1.05zM508.62 669.9h1.05V592.8h-1.05zM509.67 669.9h1.05V521.5h-1.05zM510.73 669.9h1.05V555.2h-1.05zM511.78 669.9h1.05V594.2h-1.05zM512.84 669.9h1.05V628.0h-1.05zM513.89 669.9h1.05V596.6h-1.05zM514.94 669.9h1.05V637.5h-1.05zM516.00 669.9h1.05V624.5h-1.05zM517.05 669.9h1.05V616.7h-1.05zM518.11 669.9h1.05V626.8h-1.05zM519.16 669.9h1.05V622.7h-1.05zM520.21 669.9h1.05V614.9h-1.05zM521.27 669.9h1.05V618.9h-1.05zM522.32 669.9h1.05V578.8h-1.05zM523.37 669.9h1.05V507.2h-1.05zM524.43 669.9h1.05V501.1h-1.05zM525.48 669.9h1.05V520.6h-1.05zM526.54 669.9h1.05V549.2h-1.05zM527.59 669.9h1.05V508.1h-1.05zM528.64 669.9h1.05V517.2h-1.05zM529.70 669.9h1.05V541.0h-1.05zM530.75 669.9h1.05V492.6h-1.05zM531.81 669.9h1.05V611.8h-1.05zM532.86 669.9h1.05V611.2h-1.05zM533.91 669.9h1.05V601.8h-1.05zM534.97 669.9h1.05V601.7h-1.05zM536.02 669.9h1.05V629.1h-1.05zM538.13 669.9h1.05V606.1h-1.05zM539.18 669.9h1.05V508.6h-1.05zM540.24 669.9h1.05V374.1h-1.05zM541.29 669.9h1.05V386.8h-1.05zM542.35 669.9h1.05V430.1h-1.05zM543.40 669.9h1.05V396.7h-1.05zM544.45 669.9h1.05V420.0h-1.05zM545.51 669.9h1.05V461.3h-1.05zM546.56 669.9h1.05V353.4h-1.05zM547.61 669.9h1.05V488.0h-1.05zM548.67 669.9h1.05V542.8h-1.05zM549.72 669.9h1.05V531.2h-1.05zM550.78 669.9h1.05V466.0h-1.05zM551.83 669.9h1.05V539.0h-1.05zM552.88 669.9h1.05V471.3h-1.05zM553.94 669.9h1.05V448.9h-1.05zM554.99 669.9h1.05V469.2h-1.05zM556.05 669.9h1.05V448.6h-1.05zM557.10 669.9h1.05V480.3h-1.05zM558.15 669.9h1.05V513.3h-1.05zM559.21 669.9h1.05V459.5h-1.05zM560.26 669.9h1.05V476.5h-1.05zM561.32 669.9h1.05V540.7h-1.05zM562.37 669.9h1.05V426.0h-1.05zM563.42 669.9h1.05V403.0h-1.05zM564.48 669.9h1.05V373.5h-1.05zM565.53 669.9h1.05V379.2h-1.05zM566.58 669.9h1.05V398.5h-1.05zM567.64 669.9h1.05V391.3h-1.05zM568.69 669.9h1.05V398.5h-1.05zM569.75 669.9h1.05V584.8h-1.05zM571.85 669.9h1.05V593.0h-1.05zM572.91 669.9h1.05V588.6h-1.05zM573.96 669.9h1.05V620.2h-1.05zM575.02 669.9h1.05V532.6h-1.05zM576.07 669.9h1.05V537.8h-1.05zM577.12 669.9h1.05V393.0h-1.05zM578.18 669.9h1.05V537.9h-1.05zM579.23 669.9h1.05V528.7h-1.05zM580.29 669.9h1.05V517.0h-1.05zM581.34 669.9h1.05V580.3h-1.05zM582.39 669.9h1.05V513.2h-1.05zM583.45 669.9h1.05V524.0h-1.05zM584.50 669.9h1.05V455.6h-1.05zM585.56 669.9h1.05V308.3h-1.05zM586.61 669.9h1.05V388.5h-1.05zM587.66 669.9h1.05V409.3h-1.05zM588.72 669.9h1.05V364.0h-1.05zM589.77 669.9h1.05V380.0h-1.05zM590.82 669.9h1.05V364.6h-1.05zM591.88 669.9h1.05V244.0h-1.05zM592.93 669.9h1.05V164.6h-1.05zM593.99 669.9h1.05V420.0h-1.05zM595.04 669.9h1.05V438.0h-1.05zM596.09 669.9h1.05V477.9h-1.05zM597.15 669.9h1.05V448.0h-1.05zM598.20 669.9h1.05V450.5h-1.05zM599.26 669.9h1.05V443.6h-1.05zM600.31 669.9h1.05V476.3h-1.05zM601.36 669.9h1.05V523.8h-1.05zM602.42 669.9h1.05V541.0h-1.05zM603.47 669.9h1.05V539.4h-1.05zM604.53 669.9h1.05V468.7h-1.05zM606.63 669.9h1.05V479.1h-1.05zM607.69 669.9h1.05V457.7h-1.05zM608.74 669.9h1.05V518.2h-1.05zM609.79 669.9h1.05V511.6h-1.05zM610.85 669.9h1.05V404.9h-1.05zM611.90 669.9h1.05V520.2h-1.05zM612.96 669.9h1.05V460.5h-1.05zM614.01 669.9h1.05V399.0h-1.05zM615.06 669.9h1.05V415.7h-1.05zM616.12 669.9h1.05V316.0h-1.05zM617.17 669.9h1.05V401.2h-1.05zM618.23 669.9h1.05V564.5h-1.05zM619.28 669.9h1.05V578.3h-1.05zM620.33 669.9h1.05V526.5h-1.05zM621.39 669.9h1.05V589.9h-1.05zM622.44 669.9h1.05V553.3h-1.05zM623.50 669.9h1.05V555.4h-1.05zM624.55 669.9h1.05V375.0h-1.05zM625.60 669.9h1.05V561.1h-1.05zM626.66 669.9h1.05V569.6h-1.05zM627.71 669.9h1.05V567.9h-1.05zM628.76 669.9h1.05V521.6h-1.05zM629.82 669.9h1.05V491.1h-1.05zM630.87 669.9h1.05V478.4h-1.05zM631.93 669.9h1.05V481.5h-1.05zM632.98 669.9h1.05V412.0h-1.05zM634.03 669.9h1.05V526.9h-1.05zM635.09 669.9h1.05V459.8h-1.05zM636.14 669.9h1.05V441.5h-1.05zM637.20 669.9h1.05V368.8h-1.05zM638.25 669.9h1.05V458.1h-1.05zM640.36 669.9h1.05V509.1h-1.05zM641.41 669.9h1.05V465.9h-1.05zM642.47 669.9h1.05V468.1h-1.05zM643.52 669.9h1.05V477.7h-1.05zM644.57 669.9h1.05V515.1h-1.05zM645.63 669.9h1.05V500.7h-1.05zM646.68 669.9h1.05V563.3h-1.05zM647.74 669.9h1.05V556.4h-1.05zM648.79 669.9h1.05V564.8h-1.05zM649.84 669.9h1.05V478.0h-1.05zM650.90 669.9h1.05V480.0h-1.05zM651.95 669.9h1.05V459.7h-1.05zM653.00 669.9h1.05V386.0h-1.05zM654.06 669.9h1.05V458.9h-1.05zM655.11 669.9h1.05V498.2h-1.05zM656.17 669.9h1.05V453.2h-1.05zM657.22 669.9h1.05V234.0h-1.05zM658.27 669.9h1.05V525.3h-1.05zM659.33 669.9h1.05V452.6h-1.05zM660.38 669.9h1.05V468.8h-1.05zM661.44 669.9h1.05V479.1h-1.05zM662.49 669.9h1.05V551.0h-1.05zM663.54 669.9h1.05V562.4h-1.05zM664.60 669.9h1.05V498.9h-1.05zM665.65 669.9h1.05V528.8h-1.05zM666.71 669.9h1.05V567.9h-1.05zM667.76 669.9h1.05V608.2h-1.05zM668.81 669.9h1.05V601.0h-1.05zM669.87 669.9h1.05V574.2h-1.05zM670.92 669.9h1.05V562.4h-1.05zM671.97 669.9h1.05V575.2h-1.05zM673.03 669.9h1.05V573.4h-1.05zM675.14 669.9h1.05V562.1h-1.05zM676.19 669.9h1.05V574.5h-1.05zM677.24 669.9h1.05V613.7h-1.05zM678.30 669.9h1.05V569.7h-1.05zM679.35 669.9h1.05V533.5h-1.05zM680.41 669.9h1.05V490.4h-1.05zM681.46 669.9h1.05V411.0h-1.05zM682.51 669.9h1.05V559.7h-1.05zM683.57 669.9h1.05V506.9h-1.05zM684.62 669.9h1.05V591.8h-1.05zM685.68 669.9h1.05V588.3h-1.05zM686.73 669.9h1.05V612.4h-1.05zM687.78 669.9h1.05V613.7h-1.05zM688.84 669.9h1.05V611.4h-1.05zM689.89 669.9h1.05V590.5h-1.05zM690.94 669.9h1.05V609.2h-1.05zM692.00 669.9h1.05V598.1h-1.05zM693.05 669.9h1.05V605.7h-1.05zM694.11 669.9h1.05V613.0h-1.05zM695.16 669.9h1.05V612.7h-1.05zM696.21 669.9h1.05V584.7h-1.05zM697.27 669.9h1.05V582.6h-1.05zM698.32 669.9h1.05V590.2h-1.05zM699.38 669.9h1.05V617.7h-1.05zM700.43 669.9h1.05V593.8h-1.05zM701.48 669.9h1.05V606.6h-1.05zM702.54 669.9h1.05V546.4h-1.05zM703.59 669.9h1.05V530.4h-1.05zM704.65 669.9h1.05V543.8h-1.05zM705.70 669.9h1.05V359.6h-1.05zM706.75 669.9h1.05V450.0h-1.05zM708.86 669.9h1.05V566.6h-1.05zM709.92 669.9h1.05V595.6h-1.05zM710.97 669.9h1.05V585.8h-1.05zM712.02 669.9h1.05V600.6h-1.05zM713.08 669.9h1.05V611.4h-1.05zM714.13 669.9h1.05V566.7h-1.05zM715.18 669.9h1.05V592.3h-1.05zM716.24 669.9h1.05V563.0h-1.05zM717.29 669.9h1.05V561.0h-1.05zM718.35 669.9h1.05V621.7h-1.05zM719.40 669.9h1.05V590.1h-1.05zM720.45 669.9h1.05V595.1h-1.05zM721.51 669.9h1.05V613.2h-1.05zM722.56 669.9h1.05V603.3h-1.05zM723.62 669.9h1.05V558.3h-1.05zM724.67 669.9h1.05V586.0h-1.05zM725.72 669.9h1.05V575.4h-1.05zM726.78 669.9h1.05V536.5h-1.05zM727.83 669.9h1.05V545.0h-1.05zM728.89 669.9h1.05V519.6h-1.05zM729.94 669.9h1.05V530.0h-1.05zM730.99 669.9h1.05V550.9h-1.05zM732.05 669.9h1.05V592.7h-1.05zM733.10 669.9h1.05V585.8h-1.05zM734.15 669.9h1.05V563.7h-1.05zM735.21 669.9h1.05V576.5h-1.05zM736.26 669.9h1.05V384.0h-1.05zM737.32 669.9h1.05V594.9h-1.05zM738.37 669.9h1.05V596.3h-1.05zM739.42 669.9h1.05V584.7h-1.05zM740.48 669.9h1.05V589.5h-1.05zM741.53 669.9h1.05V610.0h-1.05zM743.64 669.9h1.05V597.4h-1.05zM744.69 669.9h1.05V610.2h-1.05zM745.75 669.9h1.05V570.4h-1.05zM746.80 669.9h1.05V518.5h-1.05zM747.86 669.9h1.05V513.2h-1.05zM748.91 669.9h1.05V544.9h-1.05zM749.96 669.9h1.05V489.9h-1.05zM751.02 669.9h1.05V446.8h-1.05zM752.07 669.9h1.05V571.0h-1.05zM753.13 669.9h1.05V598.4h-1.05zM754.18 669.9h1.05V563.1h-1.05zM755.23 669.9h1.05V542.6h-1.05zM756.29 669.9h1.05V502.6h-1.05zM757.34 669.9h1.05V538.8h-1.05zM758.39 669.9h1.05V486.9h-1.05zM759.45 669.9h1.05V428.7h-1.05zM760.50 669.9h1.05V508.0h-1.05zM761.56 669.9h1.05V523.7h-1.05zM762.61 669.9h1.05V580.7h-1.05zM763.66 669.9h1.05V578.0h-1.05zM764.72 669.9h1.05V498.6h-1.05zM765.77 669.9h1.05V373.5h-1.05zM766.83 669.9h1.05V394.6h-1.05zM767.88 669.9h1.05V380.1h-1.05zM768.93 669.9h1.05V151.0h-1.05zM769.99 669.9h1.05V156.0h-1.05zM771.04 669.9h1.05V373.1h-1.05zM772.10 669.9h1.05V407.8h-1.05zM773.15 669.9h1.05V165.0h-1.05zM774.20 669.9h1.05V387.7h-1.05zM775.26 669.9h1.05V217.7h-1.05zM777.36 669.9h1.05V557.7h-1.05zM778.42 669.9h1.05V518.0h-1.05zM779.47 669.9h1.05V580.6h-1.05zM780.53 669.9h1.05V585.7h-1.05zM781.58 669.9h1.05V520.7h-1.05zM782.63 669.9h1.05V490.8h-1.05zM783.69 669.9h1.05V499.3h-1.05zM784.74 669.9h1.05V512.7h-1.05zM785.80 669.9h1.05V435.0h-1.05zM786.85 669.9h1.05V493.0h-1.05zM787.90 669.9h1.05V468.1h-1.05zM788.96 669.9h1.05V420.7h-1.05zM790.01 669.9h1.05V403.5h-1.05zM791.07 669.9h1.05V419.2h-1.05zM792.12 669.9h1.05V418.8h-1.05zM793.17 669.9h1.05V405.5h-1.05zM794.23 669.9h1.05V486.3h-1.05zM795.28 669.9h1.05V279.0h-1.05zM796.34 669.9h1.05V345.0h-1.05zM797.39 669.9h1.05V349.0h-1.05zM798.44 669.9h1.05V392.9h-1.05zM799.50 669.9h1.05V468.7h-1.05zM800.55 669.9h1.05V505.9h-1.05zM801.60 669.9h1.05V471.3h-1.05zM802.66 669.9h1.05V458.4h-1.05zM803.71 669.9h1.05V454.6h-1.05zM804.77 669.9h1.05V447.2h-1.05zM805.82 669.9h1.05V532.7h-1.05zM806.87 669.9h1.05V495.5h-1.05zM807.93 669.9h1.05V532.1h-1.05zM808.98 669.9h1.05V559.5h-1.05zM810.04 669.9h1.05V542.7h-1.05zM812.14 669.9h1.05V585.2h-1.05zM813.20 669.9h1.05V573.7h-1.05zM814.25 669.9h1.05V578.6h-1.05zM815.31 669.9h1.05V574.8h-1.05zM816.36 669.9h1.05V581.0h-1.05zM817.41 669.9h1.05V589.8h-1.05zM818.47 669.9h1.05V586.5h-1.05zM819.52 669.9h1.05V578.6h-1.05zM820.57 669.9h1.05V579.4h-1.05zM821.63 669.9h1.05V588.5h-1.05zM822.68 669.9h1.05V533.6h-1.05zM823.74 669.9h1.05V487.2h-1.05zM824.79 669.9h1.05V523.7h-1.05zM825.84 669.9h1.05V557.9h-1.05zM826.90 669.9h1.05V505.0h-1.05zM827.95 669.9h1.05V556.8h-1.05zM829.01 669.9h1.05V528.4h-1.05zM830.06 669.9h1.05V506.9h-1.05zM831.11 669.9h1.05V559.6h-1.05zM832.17 669.9h1.05V499.0h-1.05zM833.22 669.9h1.05V511.2h-1.05zM834.28 669.9h1.05V505.1h-1.05zM835.33 669.9h1.05V496.2h-1.05zM836.38 669.9h1.05V511.6h-1.05zM837.44 669.9h1.05V508.1h-1.05zM838.49 669.9h1.05V510.7h-1.05zM839.54 669.9h1.05V558.2h-1.05zM840.60 669.9h1.05V511.5h-1.05zM841.65 669.9h1.05V519.6h-1.05zM842.71 669.9h1.05V519.0h-1.05zM843.76 669.9h1.05V514.9h-1.05zM844.81 669.9h1.05V571.9h-1.05zM846.92 669.9h1.05V596.4h-1.05zM847.98 669.9h1.05V608.9h-1.05zM849.03 669.9h1.05V613.3h-1.05zM850.08 669.9h1.05V508.0h-1.05zM851.14 669.9h1.05V497.9h-1.05zM852.19 669.9h1.05V508.8h-1.05zM853.25 669.9h1.05V548.3h-1.05zM854.30 669.9h1.05V566.9h-1.05zM855.35 669.9h1.05V593.2h-1.05zM856.41 669.9h1.05V571.4h-1.05zM857.46 669.9h1.05V565.1h-1.05zM858.52 669.9h1.05V571.0h-1.05zM859.57 669.9h1.05V578.5h-1.05zM860.62 669.9h1.05V549.4h-1.05zM861.68 669.9h1.05V553.7h-1.05zM862.73 669.9h1.05V585.3h-1.05zM863.78 669.9h1.05V589.4h-1.05zM864.84 669.9h1.05V433.0h-1.05zM865.89 669.9h1.05V540.2h-1.05zM866.95 669.9h1.05V529.3h-1.05zM868.00 669.9h1.05V542.1h-1.05zM869.05 669.9h1.05V554.9h-1.05zM870.11 669.9h1.05V584.2h-1.05zM871.16 669.9h1.05V616.0h-1.05zM872.22 669.9h1.05V580.5h-1.05zM873.27 669.9h1.05V587.5h-1.05zM874.32 669.9h1.05V581.7h-1.05zM875.38 669.9h1.05V588.0h-1.05zM876.43 669.9h1.05V626.4h-1.05zM877.49 669.9h1.05V587.0h-1.05zM878.54 669.9h1.05V615.8h-1.05zM880.65 669.9h1.05V543.7h-1.05zM881.70 669.9h1.05V553.7h-1.05zM882.75 669.9h1.05V525.9h-1.05zM883.81 669.9h1.05V536.3h-1.05zM884.86 669.9h1.05V543.7h-1.05zM885.92 669.9h1.05V445.0h-1.05zM886.97 669.9h1.05V573.0h-1.05zM888.02 669.9h1.05V553.0h-1.05zM889.08 669.9h1.05V552.0h-1.05zM890.13 669.9h1.05V549.2h-1.05zM891.19 669.9h1.05V561.4h-1.05zM892.24 669.9h1.05V569.1h-1.05zM893.29 669.9h1.05V571.4h-1.05zM894.35 669.9h1.05V569.4h-1.05zM895.40 669.9h1.05V562.5h-1.05zM896.46 669.9h1.05V555.3h-1.05zM897.51 669.9h1.05V555.7h-1.05zM898.56 669.9h1.05V572.5h-1.05zM899.62 669.9h1.05V594.5h-1.05zM900.67 669.9h1.05V584.7h-1.05zM901.73 669.9h1.05V579.7h-1.05zM902.78 669.9h1.05V604.3h-1.05zM903.83 669.9h1.05V584.7h-1.05zM904.89 669.9h1.05V596.3h-1.05zM905.94 669.9h1.05V581.4h-1.05zM906.99 669.9h1.05V589.5h-1.05zM908.05 669.9h1.05V624.5h-1.05zM909.10 669.9h1.05V609.0h-1.05zM910.16 669.9h1.05V590.4h-1.05zM911.21 669.9h1.05V459.0h-1.05zM912.26 669.9h1.05V597.8h-1.05zM913.32 669.9h1.05V601.8h-1.05zM915.43 669.9h1.05V624.3h-1.05zM916.48 669.9h1.05V621.6h-1.05zM917.53 669.9h1.05V593.2h-1.05zM918.59 669.9h1.05V563.5h-1.05zM919.64 669.9h1.05V588.1h-1.05zM920.70 669.9h1.05V576.5h-1.05zM921.75 669.9h1.05V573.0h-1.05zM922.80 669.9h1.05V590.8h-1.05zM923.86 669.9h1.05V572.7h-1.05zM924.91 669.9h1.05V459.0h-1.05zM925.96 669.9h1.05V592.7h-1.05zM927.02 669.9h1.05V594.6h-1.05zM928.07 669.9h1.05V581.5h-1.05zM929.13 669.9h1.05V603.2h-1.05zM930.18 669.9h1.05V579.7h-1.05zM931.23 669.9h1.05V566.8h-1.05zM932.29 669.9h1.05V587.6h-1.05zM933.34 669.9h1.05V602.5h-1.05zM934.40 669.9h1.05V571.7h-1.05zM935.45 669.9h1.05V595.3h-1.05zM936.50 669.9h1.05V585.8h-1.05zM937.56 669.9h1.05V589.7h-1.05zM938.61 669.9h1.05V588.6h-1.05zM939.67 669.9h1.05V568.4h-1.05zM940.72 669.9h1.05V587.2h-1.05zM941.77 669.9h1.05V596.6h-1.05zM942.83 669.9h1.05V588.4h-1.05zM943.88 669.9h1.05V563.6h-1.05zM944.93 669.9h1.05V553.0h-1.05zM945.99 669.9h1.05V573.1h-1.05zM947.04 669.9h1.05V618.1h-1.05zM949.15 669.9h1.05V538.4h-1.05zM950.20 669.9h1.05V536.9h-1.05zM951.26 669.9h1.05V561.8h-1.05zM952.31 669.9h1.05V594.8h-1.05zM953.37 669.9h1.05V618.8h-1.05zM954.42 669.9h1.05V547.1h-1.05zM955.47 669.9h1.05V481.7h-1.05zM956.53 669.9h1.05V555.7h-1.05zM957.58 669.9h1.05V604.0h-1.05zM958.64 669.9h1.05V615.6h-1.05zM959.69 669.9h1.05V640.8h-1.05zM960.74 669.9h1.05V641.6h-1.05zM961.80 669.9h1.05V622.6h-1.05zM962.85 669.9h1.05V630.9h-1.05zM963.91 669.9h1.05V643.3h-1.05zM964.96 669.9h1.05V591.0h-1.05zM966.01 669.9h1.05V555.0h-1.05zM967.07 669.9h1.05V589.1h-1.05zM968.12 669.9h1.05V631.9h-1.05zM969.17 669.9h1.05V604.2h-1.05zM970.23 669.9h1.05V631.8h-1.05zM971.28 669.9h1.05V587.2h-1.05zM972.34 669.9h1.05V600.3h-1.05zM973.39 669.9h1.05V599.5h-1.05zM974.44 669.9h1.05V571.7h-1.05zM975.50 669.9h1.05V572.7h-1.05zM976.55 669.9h1.05V573.6h-1.05zM977.61 669.9h1.05V578.7h-1.05zM978.66 669.9h1.05V626.4h-1.05zM979.71 669.9h1.05V540.6h-1.05zM980.77 669.9h1.05V523.6h-1.05zM981.82 669.9h1.05V485.0h-1.05zM983.93 669.9h1.05V598.3h-1.05zM984.98 669.9h1.05V607.4h-1.05zM986.04 669.9h1.05V605.8h-1.05zM987.09 669.9h1.05V605.8h-1.05zM988.14 669.9h1.05V595.5h-1.05zM989.20 669.9h1.05V604.4h-1.05zM990.25 669.9h1.05V608.8h-1.05zM991.31 669.9h1.05V635.6h-1.05zM992.36 669.9h1.05V595.0h-1.05zM993.41 669.9h1.05V597.8h-1.05zM994.47 669.9h1.05V617.7h-1.05zM995.52 669.9h1.05V622.3h-1.05zM996.58 669.9h1.05V631.5h-1.05zM997.63 669.9h1.05V628.1h-1.05zM998.68 669.9h1.05V616.6h-1.05zM999.74 669.9h1.05V603.0h-1.05zM1000.79 669.9h1.05V599.6h-1.05zM1001.85 669.9h1.05V590.3h-1.05zM1002.90 669.9h1.05V562.4h-1.05zM1003.95 669.9h1.05V568.8h-1.05zM1005.01 669.9h1.05V582.2h-1.05zM1006.06 669.9h1.05V596.4h-1.05zM1007.12 669.9h1.05V605.0h-1.05zM1008.17 669.9h1.05V629.8h-1.05zM1009.22 669.9h1.05V608.9h-1.05zM1010.28 669.9h1.05V625.3h-1.05zM1011.33 669.9h1.05V593.2h-1.05zM1012.38 669.9h1.05V608.3h-1.05zM1013.44 669.9h1.05V562.7h-1.05zM1014.49 669.9h1.05V557.7h-1.05zM1015.55 669.9h1.05V539.0h-1.05zM1017.65 669.9h1.05V607.5h-1.05zM1018.71 669.9h1.05V618.2h-1.05zM1019.76 669.9h1.05V609.7h-1.05zM1020.82 669.9h1.05V613.0h-1.05zM1021.87 669.9h1.05V612.4h-1.05zM1022.92 669.9h1.05V572.9h-1.05zM1023.98 669.9h1.05V588.4h-1.05zM1025.03 669.9h1.05V571.5h-1.05zM1026.09 669.9h1.05V602.3h-1.05zM1027.14 669.9h1.05V556.8h-1.05zM1028.19 669.9h1.05V547.7h-1.05zM1029.25 669.9h1.05V482.6h-1.05zM1030.30 669.9h1.05V551.4h-1.05zM1031.35 669.9h1.05V588.5h-1.05zM1032.41 669.9h1.05V587.0h-1.05zM1033.46 669.9h1.05V589.6h-1.05zM1034.52 669.9h1.05V582.1h-1.05zM1035.57 669.9h1.05V590.6h-1.05zM1036.62 669.9h1.05V593.5h-1.05zM1037.68 669.9h1.05V601.0h-1.05zM1038.73 669.9h1.05V596.6h-1.05zM1039.79 669.9h1.05V605.2h-1.05zM1040.84 669.9h1.05V595.9h-1.05zM1041.89 669.9h1.05V602.2h-1.05zM1042.95 669.9h1.05V581.8h-1.05zM1044.00 669.9h1.05V595.4h-1.05zM1045.06 669.9h1.05V622.8h-1.05zM1046.11 669.9h1.05V620.1h-1.05zM1047.16 669.9h1.05V611.2h-1.05zM1048.22 669.9h1.05V613.0h-1.05zM1049.27 669.9h1.05V547.1h-1.05zM1050.32 669.9h1.05V478.0h-1.05zM1052.43 669.9h1.05V608.5h-1.05zM1053.49 669.9h1.05V624.1h-1.05zM1054.54 669.9h1.05V598.0h-1.05zM1055.59 669.9h1.05V591.5h-1.05zM1056.65 669.9h1.05V580.6h-1.05zM1057.70 669.9h1.05V579.9h-1.05zM1058.76 669.9h1.05V526.3h-1.05zM1059.81 669.9h1.05V473.0h-1.05zM1060.86 669.9h1.05V403.5h-1.05zM1061.92 669.9h1.05V562.5h-1.05zM1062.97 669.9h1.05V612.8h-1.05zM1064.03 669.9h1.05V623.5h-1.05zM1065.08 669.9h1.05V617.3h-1.05zM1066.13 669.9h1.05V612.9h-1.05zM1067.19 669.9h1.05V605.4h-1.05zM1068.24 669.9h1.05V550.5h-1.05zM1069.30 669.9h1.05V583.0h-1.05zM1070.35 669.9h1.05V599.3h-1.05zM1071.40 669.9h1.05V539.0h-1.05zM1072.46 669.9h1.05V635.9h-1.05zM1073.51 669.9h1.05V624.7h-1.05zM1074.56 669.9h1.05V629.7h-1.05zM1075.62 669.9h1.05V632.4h-1.05zM1076.67 669.9h1.05V644.6h-1.05zM1077.73 669.9h1.05V634.4h-1.05zM1078.78 669.9h1.05V633.7h-1.05zM1079.83 669.9h1.05V635.4h-1.05zM1080.89 669.9h1.05V637.9h-1.05zM1081.94 669.9h1.05V652.1h-1.05zM1083.00 669.9h1.05V644.6h-1.05zM1084.05 669.9h1.05V646.1h-1.05zM1086.16 669.9h1.05V633.1h-1.05zM1087.21 669.9h1.05V619.7h-1.05zM1088.27 669.9h1.05V639.5h-1.05zM1089.32 669.9h1.05V639.5h-1.05zM1090.37 669.9h1.05V629.6h-1.05zM1091.43 669.9h1.05V644.5h-1.05zM1092.48 669.9h1.05V635.8h-1.05zM1093.53 669.9h1.05V641.2h-1.05zM1094.59 669.9h1.05V612.0h-1.05zM1095.64 669.9h1.05V603.0h-1.05zM1096.70 669.9h1.05V614.0h-1.05zM1097.75 669.9h1.05V610.2h-1.05zM1098.80 669.9h1.05V563.5h-1.05zM1099.86 669.9h1.05V628.4h-1.05zM1100.91 669.9h1.05V630.6h-1.05zM1101.97 669.9h1.05V632.6h-1.05zM1103.02 669.9h1.05V629.2h-1.05zM1104.07 669.9h1.05V640.1h-1.05zM1105.13 669.9h1.05V634.9h-1.05zM1106.18 669.9h1.05V644.2h-1.05zM1107.24 669.9h1.05V649.4h-1.05zM1108.29 669.9h1.05V645.2h-1.05zM1109.34 669.9h1.05V622.5h-1.05zM1110.40 669.9h1.05V617.6h-1.05zM1111.45 669.9h1.05V606.9h-1.05zM1112.51 669.9h1.05V632.1h-1.05zM1113.56 669.9h1.05V577.8h-1.05zM1114.61 669.9h1.05V575.5h-1.05zM1115.67 669.9h1.05V568.7h-1.05zM1116.72 669.9h1.05V563.5h-1.05zM1117.77 669.9h1.05V567.8h-1.05zM1118.83 669.9h1.05V574.4h-1.05zM1120.94 669.9h1.05V586.3h-1.05zM1121.99 669.9h1.05V596.0h-1.05zM1123.04 669.9h1.05V614.4h-1.05zM1124.10 669.9h1.05V612.3h-1.05zM1125.15 669.9h1.05V617.5h-1.05zM1126.21 669.9h1.05V622.1h-1.05zM1127.26 669.9h1.05V613.7h-1.05zM1128.31 669.9h1.05V621.4h-1.05zM1129.37 669.9h1.05V614.9h-1.05zM1130.42 669.9h1.05V621.4h-1.05zM1131.48 669.9h1.05V637.2h-1.05zM1132.53 669.9h1.05V616.9h-1.05zM1133.58 669.9h1.05V616.0h-1.05zM1134.64 669.9h1.05V629.2h-1.05zM1135.69 669.9h1.05V611.5h-1.05zM1136.74 669.9h1.05V592.0h-1.05zM1137.80 669.9h1.05V542.2h-1.05zM1138.85 669.9h1.05V523.4h-1.05zM1139.91 669.9h1.05V452.0h-1.05zM1140.96 669.9h1.05V576.7h-1.05zM1142.01 669.9h1.05V585.7h-1.05zM1143.07 669.9h1.05V621.5h-1.05zM1144.12 669.9h1.05V604.0h-1.05zM1145.18 669.9h1.05V601.6h-1.05zM1146.23 669.9h1.05V604.0h-1.05zM1147.28 669.9h1.05V570.3h-1.05zM1148.34 669.9h1.05V611.8h-1.05zM1149.39 669.9h1.05V623.8h-1.05zM1150.45 669.9h1.05V629.5h-1.05zM1151.50 669.9h1.05V616.9h-1.05zM1152.55 669.9h1.05V559.7h-1.05zM1154.66 669.9h1.05V514.4h-1.05zM1155.71 669.9h1.05V535.4h-1.05zM1156.77 669.9h1.05V580.6h-1.05zM1157.82 669.9h1.05V556.0h-1.05zM1158.88 669.9h1.05V553.7h-1.05zM1159.93 669.9h1.05V567.5h-1.05zM1160.98 669.9h1.05V554.3h-1.05zM1162.04 669.9h1.05V568.0h-1.05zM1163.09 669.9h1.05V596.1h-1.05zM1164.15 669.9h1.05V592.0h-1.05zM1165.20 669.9h1.05V571.5h-1.05zM1166.25 669.9h1.05V511.0h-1.05z" fill="#524b8a"/>
<path d="M111.30 669.9h1.05V657.0h-1.05zM113.41 669.9h1.05V636.0h-1.05zM115.52 669.9h1.05V661.4h-1.05zM117.62 669.9h1.05V661.0h-1.05zM119.73 669.9h1.05V663.1h-1.05zM121.84 669.9h1.05V655.8h-1.05zM122.89 655.8h1.05V644.0h-1.05zM123.95 669.9h1.05V664.5h-1.05zM126.05 669.9h1.05V653.6h-1.05zM128.16 669.9h1.05V640.2h-1.05zM129.22 636.8h1.05V628.6h-1.05zM130.27 669.9h1.05V636.8h-1.05zM131.32 556.0h1.05V553.0h-1.05zM132.38 669.9h1.05V556.0h-1.05zM134.49 669.9h1.05V642.0h-1.05zM135.54 642.0h1.05V638.4h-1.05zM136.59 669.9h1.05V648.8h-1.05zM137.65 645.0h1.05V639.8h-1.05zM138.70 669.9h1.05V645.0h-1.05zM139.76 639.7h1.05V618.0h-1.05zM140.81 669.9h1.05V639.7h-1.05zM142.92 669.9h1.05V649.4h-1.05zM145.02 669.9h1.05V638.7h-1.05zM147.13 669.9h1.05V647.0h-1.05zM149.24 669.9h1.05V650.1h-1.05zM151.35 669.9h1.05V659.9h-1.05zM153.46 669.9h1.05V661.5h-1.05zM155.56 669.9h1.05V662.0h-1.05zM157.67 669.9h1.05V653.4h-1.05zM158.73 653.4h1.05V651.0h-1.05zM161.89 669.9h1.05V654.3h-1.05zM164.00 669.9h1.05V654.8h-1.05zM166.10 669.9h1.05V649.1h-1.05zM167.16 649.1h1.05V646.7h-1.05zM168.21 669.9h1.05V655.3h-1.05zM170.32 669.9h1.05V657.5h-1.05zM172.43 669.9h1.05V656.9h-1.05zM174.53 669.9h1.05V652.3h-1.05zM176.64 669.9h1.05V645.4h-1.05zM178.75 669.9h1.05V645.4h-1.05zM180.86 669.9h1.05V645.0h-1.05zM182.97 669.9h1.05V649.7h-1.05zM185.07 669.9h1.05V657.6h-1.05zM187.18 669.9h1.05V657.6h-1.05zM189.29 669.9h1.05V662.8h-1.05zM191.40 669.9h1.05V664.1h-1.05zM192.45 662.9h1.05V658.4h-1.05zM195.61 669.9h1.05V624.0h-1.05zM197.72 669.9h1.05V646.5h-1.05zM199.83 669.9h1.05V658.2h-1.05zM201.94 669.9h1.05V662.3h-1.05zM204.04 669.9h1.05V664.1h-1.05zM206.15 669.9h1.05V655.8h-1.05zM208.26 669.9h1.05V661.3h-1.05zM210.37 669.9h1.05V661.4h-1.05zM212.47 669.9h1.05V661.6h-1.05zM214.58 669.9h1.05V663.5h-1.05zM216.69 669.9h1.05V657.6h-1.05zM217.74 653.2h1.05V646.5h-1.05zM218.80 669.9h1.05V653.2h-1.05zM219.85 653.2h1.05V644.9h-1.05zM220.91 669.9h1.05V657.2h-1.05zM223.01 669.9h1.05V659.4h-1.05zM225.12 669.9h1.05V660.0h-1.05zM226.18 660.0h1.05V656.6h-1.05zM227.23 669.9h1.05V662.1h-1.05zM229.34 669.9h1.05V664.0h-1.05zM231.44 669.9h1.05V654.4h-1.05zM233.55 669.9h1.05V659.5h-1.05zM235.66 669.9h1.05V660.5h-1.05zM237.77 669.9h1.05V660.3h-1.05zM239.88 669.9h1.05V645.7h-1.05zM241.98 669.9h1.05V639.4h-1.05zM244.09 669.9h1.05V644.5h-1.05zM246.20 669.9h1.05V657.6h-1.05zM248.31 669.9h1.05V655.5h-1.05zM250.41 669.9h1.05V661.7h-1.05zM252.52 669.9h1.05V662.4h-1.05zM254.63 669.9h1.05V660.5h-1.05zM256.74 669.9h1.05V646.9h-1.05zM258.85 669.9h1.05V640.0h-1.05zM260.95 669.9h1.05V646.0h-1.05zM263.06 669.9h1.05V659.4h-1.05zM265.17 669.9h1.05V660.2h-1.05zM267.28 669.9h1.05V659.9h-1.05zM269.38 669.9h1.05V651.0h-1.05zM271.49 669.9h1.05V638.9h-1.05zM272.55 630.7h1.05V622.6h-1.05zM273.60 669.9h1.05V630.7h-1.05zM275.71 669.9h1.05V637.2h-1.05zM276.76 637.2h1.05V627.0h-1.05zM277.82 669.9h1.05V649.9h-1.05zM279.92 669.9h1.05V650.5h-1.05zM282.03 669.9h1.05V652.3h-1.05zM283.09 637.6h1.05V629.8h-1.05zM284.14 669.9h1.05V637.6h-1.05zM286.25 669.9h1.05V616.5h-1.05zM288.36 669.9h1.05V612.0h-1.05zM290.46 669.9h1.05V637.5h-1.05zM292.57 669.9h1.05V622.6h-1.05zM294.68 669.9h1.05V645.1h-1.05zM298.89 669.9h1.05V623.8h-1.05zM301.00 669.9h1.05V592.0h-1.05zM303.11 669.9h1.05V643.7h-1.05zM305.22 669.9h1.05V647.0h-1.05zM307.33 669.9h1.05V649.0h-1.05zM309.43 669.9h1.05V659.4h-1.05zM311.54 669.9h1.05V659.2h-1.05zM313.65 669.9h1.05V662.8h-1.05zM315.76 669.9h1.05V641.8h-1.05zM317.86 669.9h1.05V635.6h-1.05zM318.92 635.6h1.05V629.6h-1.05zM319.97 669.9h1.05V643.2h-1.05zM322.08 669.9h1.05V649.9h-1.05zM324.19 669.9h1.05V650.2h-1.05zM326.30 669.9h1.05V652.1h-1.05zM328.40 669.9h1.05V657.0h-1.05zM332.62 669.9h1.05V662.0h-1.05zM334.73 669.9h1.05V654.6h-1.05zM336.83 669.9h1.05V646.5h-1.05zM338.94 669.9h1.05V655.3h-1.05zM341.05 669.9h1.05V654.8h-1.05zM343.16 669.9h1.05V659.0h-1.05zM345.27 669.9h1.05V658.2h-1.05zM347.37 669.9h1.05V659.3h-1.05zM349.48 669.9h1.05V636.5h-1.05zM351.59 669.9h1.05V659.6h-1.05zM353.70 669.9h1.05V642.4h-1.05zM355.80 669.9h1.05V655.5h-1.05zM357.91 669.9h1.05V650.7h-1.05zM358.97 650.7h1.05V647.0h-1.05zM360.02 669.9h1.05V652.4h-1.05zM362.13 669.9h1.05V607.8h-1.05zM364.24 669.9h1.05V656.1h-1.05zM366.34 669.9h1.05V642.0h-1.05zM368.45 669.9h1.05V645.2h-1.05zM370.56 669.9h1.05V643.1h-1.05zM372.67 669.9h1.05V650.9h-1.05zM373.72 650.9h1.05V638.9h-1.05zM374.78 669.9h1.05V651.3h-1.05zM376.88 669.9h1.05V657.7h-1.05zM377.94 657.7h1.05V616.5h-1.05zM378.99 669.9h1.05V659.5h-1.05zM381.10 669.9h1.05V658.0h-1.05zM383.21 669.9h1.05V655.3h-1.05zM384.26 641.5h1.05V631.0h-1.05zM385.31 669.9h1.05V641.5h-1.05zM387.42 669.9h1.05V652.3h-1.05zM389.53 669.9h1.05V653.2h-1.05zM390.58 653.2h1.05V648.7h-1.05zM391.64 669.9h1.05V653.3h-1.05zM393.75 669.9h1.05V646.4h-1.05zM395.85 669.9h1.05V652.4h-1.05zM397.96 669.9h1.05V662.3h-1.05zM400.07 669.9h1.05V657.6h-1.05zM402.18 669.9h1.05V647.1h-1.05zM404.28 669.9h1.05V658.7h-1.05zM406.39 669.9h1.05V660.3h-1.05zM408.50 669.9h1.05V659.6h-1.05zM410.61 669.9h1.05V660.5h-1.05zM412.72 669.9h1.05V657.0h-1.05zM414.82 669.9h1.05V650.0h-1.05zM415.88 650.0h1.05V644.8h-1.05zM416.93 669.9h1.05V651.4h-1.05zM417.98 592.0h1.05V580.0h-1.05zM419.04 669.9h1.05V592.0h-1.05zM421.15 669.9h1.05V629.3h-1.05zM423.25 669.9h1.05V632.6h-1.05zM424.31 632.6h1.05V622.3h-1.05zM425.36 669.9h1.05V637.8h-1.05zM426.42 628.3h1.05V625.1h-1.05zM427.47 669.9h1.05V628.3h-1.05zM428.52 627.8h1.05V622.6h-1.05zM429.58 669.9h1.05V627.8h-1.05zM430.63 627.8h1.05V619.0h-1.05zM431.69 669.9h1.05V628.8h-1.05zM435.90 669.9h1.05V625.3h-1.05zM438.01 669.9h1.05V630.0h-1.05zM440.12 669.9h1.05V632.9h-1.05zM442.22 669.9h1.05V630.0h-1.05zM444.33 669.9h1.05V632.3h-1.05zM446.44 669.9h1.05V598.0h-1.05zM448.55 669.9h1.05V618.2h-1.05zM450.66 669.9h1.05V641.7h-1.05zM452.76 669.9h1.05V646.9h-1.05zM453.82 645.7h1.05V641.6h-1.05zM454.87 669.9h1.05V645.7h-1.05zM456.98 669.9h1.05V616.0h-1.05zM459.09 669.9h1.05V620.9h-1.05zM461.19 669.9h1.05V628.8h-1.05zM463.30 669.9h1.05V636.0h-1.05zM465.41 669.9h1.05V640.8h-1.05zM467.52 669.9h1.05V651.2h-1.05zM469.63 669.9h1.05V650.8h-1.05zM470.68 650.8h1.05V648.6h-1.05zM471.73 669.9h1.05V656.2h-1.05zM473.84 669.9h1.05V649.1h-1.05zM475.95 669.9h1.05V651.3h-1.05zM478.06 669.9h1.05V653.4h-1.05zM480.17 669.9h1.05V627.0h-1.05zM482.27 669.9h1.05V636.5h-1.05zM484.38 669.9h1.05V607.8h-1.05zM486.49 669.9h1.05V605.0h-1.05zM488.60 669.9h1.05V616.7h-1.05zM490.70 669.9h1.05V625.0h-1.05zM492.81 669.9h1.05V615.7h-1.05zM494.92 669.9h1.05V598.4h-1.05zM497.03 669.9h1.05V629.7h-1.05zM499.14 669.9h1.05V629.8h-1.05zM501.24 669.9h1.05V643.0h-1.05zM503.35 669.9h1.05V572.0h-1.05zM505.46 669.9h1.05V559.4h-1.05zM507.57 669.9h1.05V546.0h-1.05zM509.67 669.9h1.05V521.5h-1.05zM511.78 669.9h1.05V594.2h-1.05zM513.89 669.9h1.05V596.6h-1.05zM516.00 669.9h1.05V624.5h-1.05zM517.05 624.5h1.05V616.7h-1.05zM518.11 669.9h1.05V626.8h-1.05zM520.21 669.9h1.05V614.9h-1.05zM522.32 669.9h1.05V578.8h-1.05zM524.43 669.9h1.05V501.1h-1.05zM526.54 669.9h1.05V549.2h-1.05zM527.59 517.2h1.05V508.1h-1.05zM528.64 669.9h1.05V517.2h-1.05zM530.75 669.9h1.05V492.6h-1.05zM532.86 669.9h1.05V611.2h-1.05zM534.97 669.9h1.05V601.7h-1.05zM539.18 669.9h1.05V508.6h-1.05zM540.24 386.8h1.05V374.1h-1.05zM541.29 669.9h1.05V386.8h-1.05zM543.40 669.9h1.05V396.7h-1.05zM545.51 669.9h1.05V461.3h-1.05zM546.56 461.3h1.05V353.4h-1.05zM547.61 669.9h1.05V488.0h-1.05zM549.72 669.9h1.05V531.2h-1.05zM550.78 531.2h1.05V466.0h-1.05zM551.83 669.9h1.05V539.0h-1.05zM553.94 669.9h1.05V448.9h-1.05zM556.05 669.9h1.05V448.6h-1.05zM558.15 669.9h1.05V513.3h-1.05zM559.21 476.5h1.05V459.5h-1.05zM560.26 669.9h1.05V476.5h-1.05zM562.37 669.9h1.05V426.0h-1.05zM564.48 669.9h1.05V373.5h-1.05zM566.58 669.9h1.05V398.5h-1.05zM567.64 398.5h1.05V391.3h-1.05zM568.69 669.9h1.05V398.5h-1.05zM572.91 669.9h1.05V588.6h-1.05zM575.02 669.9h1.05V532.6h-1.05zM577.12 669.9h1.05V393.0h-1.05zM579.23 669.9h1.05V528.7h-1.05zM580.29 528.7h1.05V517.0h-1.05zM581.34 669.9h1.05V580.3h-1.05zM582.39 524.0h1.05V513.2h-1.05zM583.45 669.9h1.05V524.0h-1.05zM585.56 669.9h1.05V308.3h-1.05zM587.66 669.9h1.05V409.3h-1.05zM588.72 380.0h1.05V364.0h-1.05zM589.77 669.9h1.05V380.0h-1.05zM591.88 669.9h1.05V244.0h-1.05zM592.93 244.0h1.05V164.6h-1.05zM593.99 669.9h1.05V420.0h-1.05zM596.09 669.9h1.05V477.9h-1.05zM597.15 450.5h1.05V448.0h-1.05zM598.20 669.9h1.05V450.5h-1.05zM599.26 450.5h1.05V443.6h-1.05zM600.31 669.9h1.05V476.3h-1.05zM602.42 669.9h1.05V541.0h-1.05zM604.53 669.9h1.05V468.7h-1.05zM606.63 669.9h1.05V479.1h-1.05zM607.69 479.1h1.05V457.7h-1.05zM608.74 669.9h1.05V518.2h-1.05zM610.85 669.9h1.05V404.9h-1.05zM612.96 669.9h1.05V460.5h-1.05zM614.01 415.7h1.05V399.0h-1.05zM615.06 669.9h1.05V415.7h-1.05zM616.12 401.2h1.05V316.0h-1.05zM617.17 669.9h1.05V401.2h-1.05zM619.28 669.9h1.05V578.3h-1.05zM620.33 578.3h1.05V526.5h-1.05zM621.39 669.9h1.05V589.9h-1.05zM622.44 555.4h1.05V553.3h-1.05zM623.50 669.9h1.05V555.4h-1.05zM624.55 555.4h1.05V375.0h-1.05zM625.60 669.9h1.05V561.1h-1.05zM627.71 669.9h1.05V567.9h-1.05zM629.82 669.9h1.05V491.1h-1.05zM630.87 481.5h1.05V478.4h-1.05zM631.93 669.9h1.05V481.5h-1.05zM632.98 481.5h1.05V412.0h-1.05zM634.03 669.9h1.05V526.9h-1.05zM636.14 669.9h1.05V441.5h-1.05zM637.20 441.5h1.05V368.8h-1.05zM638.25 669.9h1.05V458.1h-1.05zM640.36 669.9h1.05V509.1h-1.05zM641.41 468.1h1.05V465.9h-1.05zM642.47 669.9h1.05V468.1h-1.05zM644.57 669.9h1.05V515.1h-1.05zM645.63 515.1h1.05V500.7h-1.05zM646.68 669.9h1.05V563.3h-1.05zM647.74 563.3h1.05V556.4h-1.05zM648.79 669.9h1.05V564.8h-1.05zM649.84 480.0h1.05V478.0h-1.05zM650.90 669.9h1.05V480.0h-1.05zM653.00 669.9h1.05V386.0h-1.05zM655.11 669.9h1.05V498.2h-1.05zM657.22 669.9h1.05V234.0h-1.05zM659.33 669.9h1.05V452.6h-1.05zM661.44 669.9h1.05V479.1h-1.05zM663.54 669.9h1.05V562.4h-1.05zM664.60 528.8h1.05V498.9h-1.05zM665.65 669.9h1.05V528.8h-1.05zM667.76 669.9h1.05V608.2h-1.05zM669.87 669.9h1.05V574.2h-1.05zM670.92 574.2h1.05V562.4h-1.05zM671.97 669.9h1.05V575.2h-1.05zM675.14 569.2h1.05V562.1h-1.05zM676.19 669.9h1.05V574.5h-1.05zM678.30 669.9h1.05V569.7h-1.05zM680.41 669.9h1.05V490.4h-1.05zM681.46 490.4h1.05V411.0h-1.05zM682.51 669.9h1.05V559.7h-1.05zM683.57 559.7h1.05V506.9h-1.05zM684.62 669.9h1.05V591.8h-1.05zM685.68 591.8h1.05V588.3h-1.05zM686.73 669.9h1.05V612.4h-1.05zM688.84 669.9h1.05V611.4h-1.05zM689.89 609.2h1.05V590.5h-1.05zM690.94 669.9h1.05V609.2h-1.05zM692.00 605.7h1.05V598.1h-1.05zM693.05 669.9h1.05V605.7h-1.05zM695.16 669.9h1.05V612.7h-1.05zM697.27 669.9h1.05V582.6h-1.05zM699.38 669.9h1.05V617.7h-1.05zM700.43 606.6h1.05V593.8h-1.05zM701.48 669.9h1.05V606.6h-1.05zM703.59 669.9h1.05V530.4h-1.05zM705.70 669.9h1.05V359.6h-1.05zM709.92 669.9h1.05V595.6h-1.05zM710.97 595.6h1.05V585.8h-1.05zM712.02 669.9h1.05V600.6h-1.05zM714.13 669.9h1.05V566.7h-1.05zM716.24 669.9h1.05V563.0h-1.05zM717.29 563.0h1.05V561.0h-1.05zM718.35 669.9h1.05V621.7h-1.05zM719.40 595.1h1.05V590.1h-1.05zM720.45 669.9h1.05V595.1h-1.05zM722.56 669.9h1.05V603.3h-1.05zM723.62 586.0h1.05V558.3h-1.05zM724.67 669.9h1.05V586.0h-1.05zM726.78 669.9h1.05V536.5h-1.05zM728.89 669.9h1.05V519.6h-1.05zM730.99 669.9h1.05V550.9h-1.05zM733.10 669.9h1.05V585.8h-1.05zM734.15 576.5h1.05V563.7h-1.05zM735.21 669.9h1.05V576.5h-1.05zM736.26 576.5h1.05V384.0h-1.05zM737.32 669.9h1.05V594.9h-1.05zM739.42 669.9h1.05V584.7h-1.05zM741.53 669.9h1.05V610.0h-1.05zM743.64 669.9h1.05V597.4h-1.05zM745.75 669.9h1.05V570.4h-1.05zM747.86 669.9h1.05V513.2h-1.05zM749.96 669.9h1.05V489.9h-1.05zM751.02 489.9h1.05V446.8h-1.05zM752.07 669.9h1.05V571.0h-1.05zM754.18 669.9h1.05V563.1h-1.05zM756.29 669.9h1.05V502.6h-1.05zM758.39 669.9h1.05V486.9h-1.05zM759.45 486.9h1.05V428.7h-1.05zM760.50 669.9h1.05V508.0h-1.05zM762.61 669.9h1.05V580.7h-1.05zM764.72 669.9h1.05V498.6h-1.05zM765.77 394.6h1.05V373.5h-1.05zM766.83 669.9h1.05V394.6h-1.05zM768.93 669.9h1.05V151.0h-1.05zM771.04 669.9h1.05V373.1h-1.05zM773.15 669.9h1.05V165.0h-1.05zM775.26 669.9h1.05V217.7h-1.05zM777.36 669.9h1.05V557.7h-1.05zM778.42 557.7h1.05V518.0h-1.05zM779.47 669.9h1.05V580.6h-1.05zM781.58 669.9h1.05V520.7h-1.05zM782.63 499.3h1.05V490.8h-1.05zM783.69 669.9h1.05V499.3h-1.05zM785.80 669.9h1.05V435.0h-1.05zM787.90 669.9h1.05V468.1h-1.05zM790.01 669.9h1.05V403.5h-1.05zM792.12 669.9h1.05V418.8h-1.05zM793.17 418.8h1.05V405.5h-1.05zM794.23 669.9h1.05V486.3h-1.05zM795.28 345.0h1.05V279.0h-1.05zM796.34 669.9h1.05V345.0h-1.05zM798.44 669.9h1.05V392.9h-1.05zM800.55 669.9h1.05V505.9h-1.05zM802.66 669.9h1.05V458.4h-1.05zM804.77 669.9h1.05V447.2h-1.05zM806.87 669.9h1.05V495.5h-1.05zM808.98 669.9h1.05V559.5h-1.05zM810.04 559.5h1.05V542.7h-1.05zM813.20 669.9h1.05V573.7h-1.05zM815.31 669.9h1.05V574.8h-1.05zM817.41 669.9h1.05V589.8h-1.05zM819.52 669.9h1.05V578.6h-1.05zM821.63 669.9h1.05V588.5h-1.05zM823.74 669.9h1.05V487.2h-1.05zM825.84 669.9h1.05V557.9h-1.05zM826.90 556.8h1.05V505.0h-1.05zM827.95 669.9h1.05V556.8h-1.05zM830.06 669.9h1.05V506.9h-1.05zM832.17 669.9h1.05V499.0h-1.05zM834.28 669.9h1.05V505.1h-1.05zM835.33 505.1h1.05V496.2h-1.05zM836.38 669.9h1.05V511.6h-1.05zM837.44 510.7h1.05V508.1h-1.05zM838.49 669.9h1.05V510.7h-1.05zM840.60 669.9h1.05V511.5h-1.05zM842.71 669.9h1.05V519.0h-1.05zM843.76 519.0h1.05V514.9h-1.05zM844.81 669.9h1.05V571.9h-1.05zM846.92 669.9h1.05V596.4h-1.05zM849.03 669.9h1.05V613.3h-1.05zM851.14 669.9h1.05V497.9h-1.05zM853.25 669.9h1.05V548.3h-1.05zM855.35 669.9h1.05V593.2h-1.05zM857.46 669.9h1.05V565.1h-1.05zM859.57 669.9h1.05V578.5h-1.05zM860.62 553.7h1.05V549.4h-1.05zM861.68 669.9h1.05V553.7h-1.05zM863.78 669.9h1.05V589.4h-1.05zM864.84 540.2h1.05V433.0h-1.05zM865.89 669.9h1.05V540.2h-1.05zM866.95 540.2h1.05V529.3h-1.05zM868.00 669.9h1.05V542.1h-1.05zM870.11 669.9h1.05V584.2h-1.05zM872.22 669.9h1.05V580.5h-1.05zM874.32 669.9h1.05V581.7h-1.05zM876.43 669.9h1.05V626.4h-1.05zM877.49 615.8h1.05V587.0h-1.05zM878.54 669.9h1.05V615.8h-1.05zM880.65 669.9h1.05V543.7h-1.05zM882.75 669.9h1.05V525.9h-1.05zM884.86 669.9h1.05V543.7h-1.05zM885.92 543.7h1.05V445.0h-1.05zM886.97 669.9h1.05V573.0h-1.05zM889.08 669.9h1.05V552.0h-1.05zM890.13 552.0h1.05V549.2h-1.05zM891.19 669.9h1.05V561.4h-1.05zM893.29 669.9h1.05V571.4h-1.05zM895.40 669.9h1.05V562.5h-1.05zM897.51 669.9h1.05V555.7h-1.05zM899.62 669.9h1.05V594.5h-1.05zM901.73 669.9h1.05V579.7h-1.05zM903.83 669.9h1.05V584.7h-1.05zM905.94 669.9h1.05V581.4h-1.05zM908.05 669.9h1.05V624.5h-1.05zM910.16 669.9h1.05V590.4h-1.05zM911.21 590.4h1.05V459.0h-1.05zM912.26 669.9h1.05V597.8h-1.05zM916.48 669.9h1.05V621.6h-1.05zM918.59 669.9h1.05V563.5h-1.05zM920.70 669.9h1.05V576.5h-1.05zM921.75 576.5h1.05V573.0h-1.05zM922.80 669.9h1.05V590.8h-1.05zM924.91 669.9h1.05V459.0h-1.05zM927.02 669.9h1.05V594.6h-1.05zM928.07 594.6h1.05V581.5h-1.05zM929.13 669.9h1.05V603.2h-1.05zM931.23 669.9h1.05V566.8h-1.05zM933.34 669.9h1.05V602.5h-1.05zM934.40 595.3h1.05V571.7h-1.05zM935.45 669.9h1.05V595.3h-1.05zM936.50 589.7h1.05V585.8h-1.05zM937.56 669.9h1.05V589.7h-1.05zM939.67 669.9h1.05V568.4h-1.05zM941.77 669.9h1.05V596.6h-1.05zM943.88 669.9h1.05V563.6h-1.05zM944.93 563.6h1.05V553.0h-1.05zM945.99 669.9h1.05V573.1h-1.05zM950.20 669.9h1.05V536.9h-1.05zM952.31 669.9h1.05V594.8h-1.05zM954.42 669.9h1.05V547.1h-1.05zM955.47 547.1h1.05V481.7h-1.05zM956.53 669.9h1.05V555.7h-1.05zM958.64 669.9h1.05V615.6h-1.05zM960.74 669.9h1.05V641.6h-1.05zM961.80 630.9h1.05V622.6h-1.05zM962.85 669.9h1.05V630.9h-1.05zM964.96 669.9h1.05V591.0h-1.05zM966.01 589.1h1.05V555.0h-1.05zM967.07 669.9h1.05V589.1h-1.05zM969.17 669.9h1.05V604.2h-1.05zM971.28 669.9h1.05V587.2h-1.05zM973.39 669.9h1.05V599.5h-1.05zM975.50 669.9h1.05V572.7h-1.05zM977.61 669.9h1.05V578.7h-1.05zM979.71 669.9h1.05V540.6h-1.05zM981.82 669.9h1.05V485.0h-1.05zM983.93 669.9h1.05V598.3h-1.05zM986.04 669.9h1.05V605.8h-1.05zM988.14 669.9h1.05V595.5h-1.05zM990.25 669.9h1.05V608.8h-1.05zM992.36 669.9h1.05V595.0h-1.05zM994.47 669.9h1.05V617.7h-1.05zM996.58 669.9h1.05V631.5h-1.05zM998.68 669.9h1.05V616.6h-1.05zM1000.79 669.9h1.05V599.6h-1.05zM1002.90 669.9h1.05V562.4h-1.05zM1005.01 669.9h1.05V582.2h-1.05zM1007.12 669.9h1.05V605.0h-1.05zM1009.22 669.9h1.05V608.9h-1.05zM1011.33 669.9h1.05V593.2h-1.05zM1013.44 669.9h1.05V562.7h-1.05zM1015.55 669.9h1.05V539.0h-1.05zM1017.65 669.9h1.05V607.5h-1.05zM1019.76 669.9h1.05V609.7h-1.05zM1021.87 669.9h1.05V612.4h-1.05zM1022.92 588.4h1.05V572.9h-1.05zM1023.98 669.9h1.05V588.4h-1.05zM1025.03 588.4h1.05V571.5h-1.05zM1026.09 669.9h1.05V602.3h-1.05zM1028.19 669.9h1.05V547.7h-1.05zM1029.25 547.7h1.05V482.6h-1.05zM1030.30 669.9h1.05V551.4h-1.05zM1032.41 669.9h1.05V587.0h-1.05zM1034.52 669.9h1.05V582.1h-1.05zM1036.62 669.9h1.05V593.5h-1.05zM1038.73 669.9h1.05V596.6h-1.05zM1040.84 669.9h1.05V595.9h-1.05zM1042.95 669.9h1.05V581.8h-1.05zM1045.06 669.9h1.05V622.8h-1.05zM1047.16 669.9h1.05V611.2h-1.05zM1049.27 669.9h1.05V547.1h-1.05zM1050.32 547.1h1.05V478.0h-1.05zM1053.49 669.9h1.05V624.1h-1.05zM1055.59 669.9h1.05V591.5h-1.05zM1057.70 669.9h1.05V579.9h-1.05zM1059.81 669.9h1.05V473.0h-1.05zM1060.86 473.0h1.05V403.5h-1.05zM1061.92 669.9h1.05V562.5h-1.05zM1064.03 669.9h1.05V623.5h-1.05zM1066.13 669.9h1.05V612.9h-1.05zM1068.24 669.9h1.05V550.5h-1.05zM1070.35 669.9h1.05V599.3h-1.05zM1071.40 599.3h1.05V539.0h-1.05zM1072.46 669.9h1.05V635.9h-1.05zM1073.51 629.7h1.05V624.7h-1.05zM1074.56 669.9h1.05V629.7h-1.05zM1076.67 669.9h1.05V644.6h-1.05zM1078.78 669.9h1.05V633.7h-1.05zM1080.89 669.9h1.05V637.9h-1.05zM1083.00 669.9h1.05V644.6h-1.05zM1087.21 669.9h1.05V619.7h-1.05zM1089.32 669.9h1.05V639.5h-1.05zM1090.37 639.5h1.05V629.6h-1.05zM1091.43 669.9h1.05V644.5h-1.05zM1092.48 641.2h1.05V635.8h-1.05zM1093.53 669.9h1.05V641.2h-1.05zM1095.64 669.9h1.05V603.0h-1.05zM1097.75 669.9h1.05V610.2h-1.05zM1098.80 610.2h1.05V563.5h-1.05zM1099.86 669.9h1.05V628.4h-1.05zM1101.97 669.9h1.05V632.6h-1.05zM1103.02 632.6h1.05V629.2h-1.05zM1104.07 669.9h1.05V640.1h-1.05zM1105.13 640.1h1.05V634.9h-1.05zM1106.18 669.9h1.05V644.2h-1.05zM1108.29 669.9h1.05V645.2h-1.05zM1110.40 669.9h1.05V617.6h-1.05zM1111.45 617.6h1.05V606.9h-1.05zM1112.51 669.9h1.05V632.1h-1.05zM1114.61 669.9h1.05V575.5h-1.05zM1116.72 669.9h1.05V563.5h-1.05zM1118.83 669.9h1.05V574.4h-1.05zM1120.94 669.9h1.05V586.3h-1.05zM1123.04 669.9h1.05V614.4h-1.05zM1124.10 614.4h1.05V612.3h-1.05zM1125.15 669.9h1.05V617.5h-1.05zM1127.26 669.9h1.05V613.7h-1.05zM1129.37 669.9h1.05V614.9h-1.05zM1131.48 669.9h1.05V637.2h-1.05zM1133.58 669.9h1.05V616.0h-1.05zM1135.69 669.9h1.05V611.5h-1.05zM1137.80 669.9h1.05V542.2h-1.05zM1139.91 669.9h1.05V452.0h-1.05zM1142.01 669.9h1.05V585.7h-1.05zM1144.12 669.9h1.05V604.0h-1.05zM1145.18 604.0h1.05V601.6h-1.05zM1146.23 669.9h1.05V604.0h-1.05zM1147.28 604.0h1.05V570.3h-1.05zM1148.34 669.9h1.05V611.8h-1.05zM1150.45 669.9h1.05V629.5h-1.05zM1152.55 669.9h1.05V559.7h-1.05zM1154.66 669.9h1.05V514.4h-1.05zM1156.77 669.9h1.05V580.6h-1.05zM1158.88 669.9h1.05V553.7h-1.05zM1160.98 669.9h1.05V554.3h-1.05zM1163.09 669.9h1.05V596.1h-1.05zM1165.20 669.9h1.05V571.5h-1.05zM1166.25 571.5h1.05V511.0h-1.05z" fill="#251f5c"/>
<path d="M111.8 653.0 L112.3 652.9 L112.9 653.8 L113.9 652.8 L115.0 651.5 L116.0 651.9 L117.1 651.4 L118.2 652.5 L119.2 650.5 L119.3 651.0 L120.3 649.6 L121.3 649.4 L122.4 647.0 L123.4 647.2 L124.0 646.4 L124.5 646.8 L125.5 644.0 L126.6 641.6 L127.6 640.5 L128.6 639.0 L128.7 639.1 L129.7 637.8 L130.8 637.4 L131.8 637.2 L132.3 638.0 L132.9 637.2 L134.0 636.9 L135.0 636.1 L136.1 635.5 L137.1 634.6 L137.8 635.3 L138.2 635.9 L139.2 638.2 L140.3 639.0 L141.3 640.4 L142.4 642.0 L142.5 641.8 L143.4 641.6 L144.5 643.5 L145.6 643.5 L146.6 644.4 L147.0 644.5 L147.7 645.3 L148.7 645.8 L149.8 646.3 L150.8 647.0 L151.9 647.8 L152.9 649.5 L153.6 650.0 L154.0 649.2 L155.0 648.5 L156.1 645.8 L157.1 645.5 L158.2 645.6 L158.3 644.5 L159.2 643.6 L160.3 644.3 L161.4 643.9 L162.4 643.2 L163.0 643.6 L163.5 645.4 L164.5 644.7 L165.6 647.0 L166.6 646.5 L167.5 648.3 L167.7 647.2 L168.7 649.7 L169.8 649.0 L170.8 648.4 L171.9 649.6 L172.9 650.1 L174.0 651.3 L175.0 651.0 L175.1 650.0 L176.1 650.0 L177.2 651.5 L178.2 650.7 L179.3 648.8 L180.3 649.0 L181.4 648.7 L182.4 649.2 L183.5 648.8 L184.0 648.3 L184.6 649.4 L185.6 649.6 L186.7 649.1 L187.7 650.0 L188.8 650.3 L189.8 650.6 L190.0 650.0 L190.9 650.3 L191.9 651.6 L193.0 651.8 L194.0 652.8 L194.6 652.0 L195.1 652.8 L195.6 655.7 L196.1 656.7 L197.2 654.4 L198.2 656.4 L199.3 655.9 L200.3 655.7 L201.4 656.9 L202.5 655.9 L203.5 655.5 L204.6 656.4 L205.6 656.7 L206.7 656.0 L207.7 655.4 L208.6 655.7 L208.8 655.6 L209.8 656.0 L210.9 657.0 L211.9 656.2 L213.0 656.8 L214.1 657.5 L215.1 657.4 L216.2 657.5 L217.2 659.1 L217.8 658.5 L218.3 659.1 L219.3 657.6 L220.4 656.9 L221.4 655.6 L222.5 655.4 L223.5 654.4 L224.6 654.9 L225.7 654.3 L226.2 653.8 L226.7 652.9 L227.8 655.5 L228.8 654.4 L229.9 656.2 L230.8 655.7 L230.9 656.6 L232.0 657.5 L233.0 656.0 L234.1 657.1 L235.1 658.9 L236.2 657.1 L236.4 658.5 L237.2 657.3 L238.3 658.7 L239.3 658.5 L240.4 659.6 L241.5 659.2 L242.5 658.6 L243.6 659.8 L244.6 658.5 L245.7 658.5 L245.7 658.5 L246.7 659.1 L247.8 658.4 L248.8 658.4 L249.9 659.2 L250.9 658.6 L252.0 660.3 L253.1 659.7 L254.1 659.4 L255.0 659.4 L255.2 658.3 L256.2 659.0 L257.3 658.9 L258.3 659.2 L259.4 659.2 L260.4 659.9 L261.5 660.0 L262.5 658.6 L263.6 658.4 L264.2 658.5 L264.6 658.5 L265.7 658.8 L266.8 656.3 L267.8 656.1 L268.9 656.1 L269.9 653.7 L270.0 654.5 L271.0 653.1 L272.0 653.7 L273.1 652.3 L274.1 650.4 L275.2 648.3 L275.6 648.9 L276.2 650.1 L277.3 649.7 L278.3 650.3 L279.4 650.9 L280.4 650.9 L281.2 650.0 L281.5 649.7 L282.6 648.8 L283.6 649.0 L284.7 649.3 L285.7 649.1 L286.8 648.1 L286.8 648.9 L287.8 647.4 L288.9 648.0 L289.9 647.3 L291.0 646.0 L292.0 647.0 L292.4 645.5 L293.1 645.4 L294.1 643.2 L295.2 643.5 L296.3 643.8 L297.3 641.9 L298.0 642.0 L298.4 642.4 L299.4 640.4 L300.5 640.9 L301.5 642.1 L302.5 641.0 L302.6 641.3 L303.6 642.9 L304.7 643.1 L305.7 645.3 L305.9 645.5 L306.8 646.9 L307.9 647.6 L308.9 650.0 L309.2 650.0 L310.0 650.1 L311.0 651.3 L312.1 650.2 L313.1 649.8 L314.2 649.0 L314.8 650.0 L315.2 650.1 L316.3 654.1 L317.3 654.8 L318.2 657.8 L318.4 656.8 L319.4 657.1 L320.5 658.1 L321.6 659.0 L322.6 658.6 L323.7 659.2 L323.8 658.4 L324.7 657.4 L325.8 657.4 L326.8 659.5 L327.9 658.5 L328.3 659.0 L328.9 659.2 L330.0 657.7 L331.0 656.7 L332.1 656.4 L332.7 656.7 L333.1 655.2 L334.2 656.2 L335.2 654.2 L336.3 652.5 L337.2 652.0 L337.4 651.9 L338.4 651.7 L339.5 650.8 L340.5 653.0 L341.6 652.2 L342.6 653.2 L342.8 652.0 L343.7 651.4 L344.7 651.2 L345.8 649.7 L346.9 648.6 L347.9 650.3 L348.4 648.9 L348.9 649.3 L350.0 647.5 L350.0 647.0 L351.1 646.4 L352.1 644.1 L353.2 640.7 L354.2 639.4 L355.3 638.2 L355.3 637.0 L356.3 634.6 L357.4 633.4 L358.4 629.2 L359.5 627.1 L359.9 626.5 L360.6 627.3 L361.6 626.5 L362.7 627.1 L363.1 627.8 L363.7 627.6 L364.8 624.5 L365.8 622.5 L365.8 623.3 L366.9 621.8 L367.9 621.7 L368.4 622.5 L369.0 623.9 L370.0 626.7 L371.1 631.9 L372.1 633.4 L372.3 634.4 L373.2 633.4 L374.2 630.8 L375.3 630.4 L376.3 629.0 L376.4 628.7 L377.4 628.0 L378.5 626.5 L379.5 626.0 L380.6 627.1 L381.6 625.2 L382.7 624.3 L383.7 623.5 L384.2 624.0 L384.8 625.2 L385.8 628.2 L386.8 631.7 L386.9 630.4 L387.9 631.5 L389.0 630.1 L390.1 629.1 L391.1 630.0 L392.0 629.0 L392.2 628.3 L393.2 631.4 L394.3 635.4 L395.3 637.0 L395.3 636.0 L396.4 636.5 L397.4 637.3 L398.5 636.9 L399.5 634.9 L399.9 635.7 L400.6 634.6 L401.6 634.5 L402.7 632.6 L403.8 633.0 L403.9 631.7 L404.8 631.9 L405.9 634.9 L406.9 634.8 L407.8 635.7 L408.0 635.0 L409.0 635.6 L410.1 634.7 L411.1 636.2 L411.7 635.7 L412.2 633.8 L413.2 632.6 L414.3 629.0 L415.4 625.6 L415.7 625.0 L416.4 618.7 L417.5 611.1 L418.3 604.0 L418.5 602.8 L419.6 602.5 L420.6 598.4 L421.7 597.4 L422.2 596.3 L422.7 598.5 L423.8 601.9 L424.8 607.3 L424.9 606.8 L425.9 602.0 L426.9 597.9 L427.5 595.0 L428.0 596.2 L429.1 597.7 L430.0 600.2 L430.1 599.4 L431.2 593.9 L432.2 589.3 L433.3 586.3 L433.8 583.0 L434.3 584.9 L435.4 590.7 L436.4 594.2 L437.5 600.2 L437.6 600.6 L438.5 602.1 L439.6 604.6 L440.6 606.2 L441.7 607.7 L442.6 610.7 L442.8 610.8 L443.8 614.7 L444.9 618.6 L445.9 624.3 L447.0 627.3 L447.7 630.8 L448.0 630.2 L449.1 630.2 L450.1 628.5 L451.2 627.5 L452.2 626.1 L453.3 622.9 L454.0 623.0 L454.3 622.6 L455.4 622.6 L456.4 624.9 L457.5 625.4 L458.6 625.2 L459.6 626.0 L460.7 627.2 L461.7 628.0 L462.7 628.0 L462.8 627.5 L463.8 631.2 L464.9 632.0 L465.9 634.9 L467.0 635.8 L467.8 638.3 L468.1 636.7 L469.1 636.3 L470.1 633.4 L471.2 630.9 L472.3 626.6 L473.3 624.2 L474.4 622.0 L475.3 620.7 L475.4 619.6 L476.5 617.4 L477.5 615.1 L478.6 611.8 L479.6 610.0 L480.7 608.3 L481.8 604.7 L482.8 603.0 L482.8 603.9 L483.9 599.7 L484.9 596.7 L486.0 592.0 L486.6 590.6 L487.0 591.5 L488.1 594.9 L489.1 596.8 L490.2 598.7 L490.4 600.6 L491.2 599.4 L492.3 596.6 L493.3 592.6 L494.4 589.4 L495.4 588.0 L495.4 588.9 L496.5 586.6 L497.6 583.6 L498.6 582.5 L499.7 580.6 L500.4 580.5 L500.7 580.8 L501.8 577.7 L502.8 578.0 L503.9 576.0 L504.9 572.8 L505.5 573.0 L506.0 571.9 L507.0 567.5 L508.1 564.8 L509.1 561.4 L509.2 560.4 L510.2 561.8 L511.3 563.4 L512.3 567.8 L513.0 568.0 L513.4 568.3 L514.4 571.2 L515.5 572.2 L516.5 573.9 L517.6 575.7 L518.0 575.5 L518.6 573.4 L519.7 568.8 L520.7 563.7 L521.8 561.2 L522.9 556.4 L523.9 552.5 L525.0 549.5 L525.7 545.5 L526.0 542.1 L527.1 535.3 L528.1 525.0 L528.3 524.7 L529.2 529.6 L530.2 535.1 L530.9 537.7 L531.3 536.3 L532.3 535.0 L533.4 533.9 L533.5 532.5 L534.4 526.6 L535.5 519.3 L536.5 511.5 L537.4 506.5 L537.6 503.5 L538.7 494.4 L539.7 484.6 L540.8 474.2 L541.0 472.8 L541.8 464.7 L542.7 457.0 L542.9 456.7 L543.9 461.9 L545.0 465.6 L546.0 468.3 L546.6 471.0 L547.1 467.4 L548.1 461.7 L549.2 455.1 L549.5 453.4 L550.2 459.5 L551.3 465.1 L552.4 472.0 L552.4 472.8 L553.4 472.3 L554.5 468.8 L555.5 468.3 L556.3 467.0 L556.6 468.7 L557.6 478.2 L558.7 485.8 L559.7 494.6 L560.0 496.0 L560.8 495.9 L561.8 498.3 L562.9 499.2 L564.0 499.8 L564.0 500.0 L565.0 503.6 L566.1 506.9 L567.1 508.1 L567.9 511.4 L568.2 508.9 L569.2 501.5 L570.3 493.5 L571.3 485.5 L571.7 484.0 L572.4 481.7 L573.4 478.8 L574.5 477.4 L574.6 476.6 L575.5 455.3 L576.5 434.0 L576.6 432.9 L577.6 432.8 L578.7 432.4 L579.4 432.0 L579.8 430.0 L580.8 424.6 L581.9 419.5 L582.3 418.6 L582.9 411.6 L584.0 404.3 L585.0 393.9 L585.2 391.6 L586.1 386.0 L587.1 382.2 L587.7 378.7 L588.2 377.6 L589.2 371.6 L590.3 365.5 L590.4 366.0 L591.4 394.5 L591.5 399.0 L592.4 408.9 L593.5 420.0 L594.5 432.7 L595.0 438.0 L595.6 443.1 L596.6 457.2 L597.7 468.3 L598.7 480.0 L598.8 480.5 L599.8 486.9 L600.8 491.8 L601.7 496.0 L601.9 493.4 L602.9 482.9 L604.0 472.1 L604.6 467.0 L605.0 459.1 L606.1 445.6 L607.2 430.3 L607.5 424.4 L608.2 424.8 L609.3 426.0 L610.3 428.6 L610.4 428.3 L611.4 422.3 L612.3 414.8 L612.4 416.1 L613.5 415.3 L614.5 418.2 L615.0 418.0 L615.6 417.1 L616.6 413.6 L617.7 409.3 L618.4 407.6 L618.8 406.2 L619.8 406.3 L620.9 403.3 L621.9 401.8 L622.0 402.0 L623.0 409.9 L624.0 418.0 L625.1 427.6 L625.6 431.0 L626.1 425.0 L627.2 414.0 L628.2 404.8 L629.2 395.0 L629.3 395.4 L630.4 397.3 L631.4 398.3 L632.0 398.5 L632.5 403.6 L633.5 413.2 L634.6 421.5 L635.6 431.0 L636.4 438.0 L636.7 440.4 L637.7 453.6 L638.2 460.0 L638.8 458.8 L639.8 455.0 L640.9 454.0 L641.9 450.1 L643.0 448.3 L643.6 447.0 L644.0 450.0 L645.1 452.1 L646.1 456.2 L647.2 461.7 L647.2 461.5 L648.3 461.4 L649.3 463.3 L650.4 462.0 L650.8 463.5 L651.4 467.7 L652.5 473.3 L653.5 478.7 L654.6 483.4 L655.6 488.6 L656.7 495.1 L657.2 497.4 L657.8 499.4 L658.8 502.9 L659.9 506.5 L660.9 510.5 L662.0 514.9 L663.0 519.0 L664.0 521.7 L664.1 523.3 L665.1 529.5 L666.2 538.1 L667.2 546.6 L667.6 549.6 L668.3 547.0 L669.3 542.2 L670.4 537.6 L671.5 533.1 L672.5 529.4 L672.8 528.7 L673.6 529.1 L674.6 531.1 L675.7 531.6 L676.7 532.1 L677.8 533.1 L678.0 532.0 L678.8 537.7 L679.9 542.6 L680.0 543.0 L680.9 543.2 L682.0 540.5 L683.0 541.4 L683.5 540.6 L684.1 539.7 L685.1 536.8 L685.8 536.0 L686.2 543.2 L687.0 557.0 L687.3 558.3 L688.3 557.7 L689.4 558.8 L690.4 559.0 L690.4 558.5 L691.5 558.6 L692.5 560.0 L693.6 557.8 L694.6 558.2 L695.7 559.5 L696.7 558.9 L697.4 559.0 L697.8 553.3 L698.6 545.0 L698.9 546.2 L699.9 548.6 L700.9 552.0 L701.0 552.2 L702.0 550.8 L703.1 550.2 L703.2 550.0 L704.1 543.4 L705.2 535.3 L706.2 526.9 L706.7 524.4 L707.3 525.5 L708.3 530.8 L709.4 533.4 L710.2 536.0 L710.4 536.5 L711.5 544.8 L712.5 550.0 L712.5 549.0 L713.6 540.1 L714.7 532.8 L715.7 523.7 L716.0 522.0 L716.8 519.3 L717.8 515.7 L718.9 511.2 L719.9 508.4 L720.6 505.8 L721.0 505.0 L722.0 506.8 L723.1 507.6 L724.0 508.0 L724.1 506.4 L725.2 503.3 L726.2 498.5 L726.4 499.0 L727.3 495.1 L728.4 491.9 L728.7 489.6 L729.4 488.4 L729.9 487.3 L730.5 492.7 L731.5 501.9 L732.6 509.3 L733.4 517.4 L733.6 517.3 L734.7 510.2 L735.7 503.5 L735.7 502.8 L736.8 513.0 L737.8 520.3 L738.9 528.1 L739.2 531.4 L740.0 529.5 L741.0 524.1 L742.1 520.3 L742.6 517.4 L743.1 514.1 L744.2 510.9 L745.2 504.1 L746.1 501.2 L746.3 500.2 L747.3 498.4 L748.4 495.4 L748.4 496.6 L749.4 505.8 L750.5 514.0 L750.8 517.4 L751.5 519.2 L752.6 523.7 L753.0 524.4 L753.6 516.7 L754.7 505.6 L755.4 496.6 L755.8 492.2 L756.8 479.0 L757.7 466.4 L757.9 463.2 L758.9 442.8 L760.0 421.5 L760.0 420.0 L761.0 393.9 L761.2 390.6 L762.1 382.3 L763.1 370.5 L764.2 360.9 L765.0 352.0 L765.2 346.8 L766.3 323.0 L767.0 306.0 L767.4 278.7 L768.2 216.6 L768.4 207.8 L769.5 165.5 L769.8 151.0 L770.5 158.8 L771.3 165.0 L771.6 162.4 L772.6 148.2 L773.5 139.0 L773.7 143.1 L774.7 164.8 L775.7 187.0 L775.8 196.5 L776.5 276.0 L776.8 266.5 L777.9 232.4 L778.2 224.0 L779.0 244.5 L780.0 271.3 L780.6 286.5 L781.0 279.4 L782.1 264.1 L783.2 249.7 L784.0 237.8 L784.2 239.7 L785.3 243.8 L786.3 247.4 L787.4 252.0 L788.4 257.0 L789.3 262.0 L789.5 263.5 L790.5 266.1 L791.6 271.3 L792.6 274.8 L792.8 276.0 L793.7 272.0 L794.8 266.0 L795.8 260.2 L796.3 258.7 L796.9 258.6 L797.9 255.6 L799.0 253.9 L799.8 251.7 L800.0 257.1 L801.1 279.0 L801.5 286.5 L802.0 329.5 L802.1 331.5 L803.2 358.4 L804.0 379.0 L804.2 376.9 L805.3 372.7 L806.4 368.6 L807.4 362.5 L807.4 363.3 L808.5 365.6 L809.5 370.3 L810.6 376.3 L811.6 380.3 L812.4 383.0 L812.7 383.1 L813.7 384.9 L814.8 385.6 L815.8 388.9 L816.5 389.0 L816.9 387.0 L817.9 383.5 L819.0 378.2 L820.0 372.1 L820.6 370.7 L821.1 378.1 L822.2 394.4 L822.7 403.7 L823.2 422.6 L824.3 458.7 L824.7 473.8 L825.3 499.3 L826.4 545.1 L826.8 564.5 L827.4 537.1 L828.5 491.9 L828.9 473.8 L829.5 480.2 L830.6 490.1 L831.0 494.4 L831.6 517.8 L832.7 556.1 L833.0 568.7 L833.8 569.7 L834.8 570.1 L835.9 570.4 L836.9 572.6 L837.0 572.8 L838.0 550.2 L839.0 523.3 L839.0 521.2 L840.1 468.2 L841.1 416.2 L841.2 412.0 L842.2 324.4 L842.5 296.5 L843.2 342.3 L844.0 391.3 L844.3 419.2 L845.3 521.1 L845.4 527.4 L846.4 507.9 L847.5 486.9 L848.5 466.0 L848.5 467.2 L849.6 468.7 L850.6 467.6 L851.7 470.4 L852.7 472.4 L853.7 473.0 L853.8 473.8 L854.8 471.2 L855.9 468.4 L856.9 466.0 L858.0 462.9 L859.0 461.0 L859.0 460.8 L860.1 472.4 L861.1 482.8 L862.2 493.2 L862.4 494.0 L863.3 488.7 L864.3 480.5 L865.4 474.6 L866.0 469.6 L866.4 465.9 L867.5 454.4 L868.5 443.8 L868.7 441.7 L869.6 454.1 L870.6 469.8 L871.7 484.7 L872.7 499.0 L872.8 501.0 L873.8 495.6 L874.9 490.3 L875.9 486.7 L876.3 483.5 L877.0 484.7 L878.0 486.5 L879.1 488.3 L879.8 490.4 L880.1 487.2 L881.2 479.1 L882.2 470.2 L883.3 461.5 L883.3 462.6 L884.3 455.1 L885.4 445.4 L886.4 436.8 L886.7 434.8 L887.5 423.9 L888.5 408.6 L889.5 396.0 L889.6 396.2 L890.7 406.5 L891.7 417.6 L892.0 421.0 L892.8 424.0 L893.8 430.0 L894.9 434.4 L895.9 440.3 L897.0 443.6 L897.2 445.0 L898.0 452.8 L899.1 460.3 L900.1 467.5 L900.7 473.0 L901.2 472.7 L902.2 474.9 L903.3 477.0 L904.0 476.5 L904.4 474.4 L905.4 470.3 L906.5 464.3 L907.5 460.3 L907.6 459.0 L908.6 462.9 L909.6 469.4 L910.7 475.9 L911.0 476.5 L911.7 480.2 L912.8 486.3 L913.8 491.8 L914.6 497.4 L914.9 495.9 L916.0 494.0 L917.0 493.0 L918.0 490.4 L918.1 490.2 L919.1 500.1 L920.2 509.0 L921.2 519.5 L921.5 521.7 L922.3 521.8 L923.3 520.2 L924.4 517.9 L925.0 518.0 L925.4 517.1 L926.5 514.1 L927.5 509.6 L928.6 504.7 L929.6 503.0 L930.0 501.0 L930.7 504.6 L931.8 507.2 L932.8 510.6 L933.7 514.8 L933.9 513.4 L934.9 511.0 L936.0 508.5 L937.0 504.5 L938.0 501.0 L938.1 502.3 L939.1 502.8 L940.2 505.5 L941.2 509.0 L942.3 511.2 L942.4 511.0 L943.4 515.4 L944.4 521.3 L945.5 525.6 L946.0 528.7 L946.5 530.8 L947.6 538.4 L948.6 544.1 L949.3 549.6 L949.7 548.4 L950.7 543.5 L951.8 539.7 L952.8 535.7 L952.8 536.0 L953.9 536.1 L955.0 537.6 L956.0 537.5 L956.3 539.0 L957.0 541.1 L958.1 541.6 L959.2 544.1 L960.2 543.1 L961.3 546.0 L961.5 546.0 L962.3 545.5 L963.4 543.0 L964.4 541.0 L965.5 539.7 L966.5 538.3 L966.7 539.0 L967.6 542.6 L968.6 544.2 L969.7 549.5 L970.0 549.6 L970.8 546.0 L971.8 541.5 L972.9 536.9 L973.9 532.1 L975.0 527.6 L976.0 522.7 L977.0 518.0 L977.1 517.9 L978.1 522.9 L979.2 525.6 L980.2 530.8 L980.7 532.0 L981.3 530.8 L982.4 527.6 L983.4 523.1 L984.0 521.7 L984.5 524.2 L985.5 528.8 L986.6 531.5 L987.6 535.7 L987.6 535.1 L988.7 534.0 L989.7 533.3 L990.8 529.4 L991.0 530.0 L991.8 529.0 L992.9 530.5 L993.9 531.2 L995.0 531.9 L996.0 531.1 L997.1 533.0 L998.0 532.0 L998.2 531.2 L999.2 531.9 L1000.3 529.4 L1001.3 528.6 L1002.4 528.2 L1003.0 528.7 L1003.4 526.8 L1004.5 526.0 L1005.0 525.0 L1005.5 527.3 L1006.6 530.5 L1007.6 536.7 L1008.5 539.0 L1008.7 539.0 L1009.8 540.6 L1010.8 542.8 L1011.9 546.3 L1012.0 546.0 L1012.9 542.9 L1014.0 536.2 L1015.0 531.0 L1015.4 530.5 L1016.1 534.1 L1017.1 537.3 L1018.2 543.7 L1019.0 546.0 L1019.2 546.0 L1020.3 546.4 L1021.3 545.6 L1022.4 546.8 L1023.5 545.9 L1024.0 546.0 L1024.5 544.2 L1025.6 543.0 L1026.6 538.2 L1027.7 537.1 L1028.7 532.6 L1029.4 532.0 L1029.8 532.0 L1030.8 530.4 L1031.9 530.5 L1032.8 528.7 L1032.9 528.0 L1034.0 532.4 L1035.0 535.1 L1036.1 539.5 L1036.3 539.0 L1037.2 538.5 L1038.2 535.5 L1039.3 532.4 L1039.8 532.0 L1040.3 532.4 L1041.4 534.6 L1042.4 537.2 L1043.5 538.9 L1044.5 541.0 L1045.0 542.7 L1045.6 542.1 L1046.6 539.6 L1047.7 536.4 L1048.7 536.0 L1049.8 531.7 L1050.0 532.0 L1050.8 533.3 L1051.9 533.5 L1053.0 536.7 L1054.0 538.1 L1055.1 537.8 L1055.5 539.0 L1056.1 542.2 L1057.2 546.6 L1058.2 549.5 L1059.3 553.8 L1060.3 558.5 L1060.7 560.0 L1061.4 556.0 L1062.4 546.5 L1063.5 540.3 L1064.5 532.5 L1065.6 524.5 L1066.0 521.8 L1066.7 522.9 L1067.7 525.2 L1068.8 524.9 L1069.8 528.1 L1070.9 528.2 L1071.0 528.7 L1071.9 531.2 L1073.0 533.5 L1074.0 533.8 L1074.6 535.7 L1075.1 537.6 L1076.2 540.0 L1077.2 540.3 L1078.2 541.7 L1079.3 544.0 L1079.8 546.0 L1080.4 548.2 L1081.4 547.5 L1082.5 551.7 L1083.5 551.5 L1084.6 554.9 L1085.0 555.0 L1085.6 554.1 L1086.7 554.5 L1087.7 556.1 L1088.8 554.8 L1089.8 555.7 L1090.9 557.4 L1092.0 557.2 L1092.0 556.6 L1093.0 556.2 L1094.1 555.1 L1095.1 551.2 L1096.2 550.3 L1097.2 549.6 L1097.2 550.4 L1098.3 550.1 L1099.3 548.4 L1100.4 549.6 L1101.4 548.9 L1102.4 549.6 L1102.5 549.9 L1103.5 554.3 L1104.6 559.3 L1105.2 563.5 L1105.7 562.8 L1106.7 556.4 L1107.6 553.0 L1107.8 552.2 L1108.8 538.3 L1109.9 527.5 L1110.9 514.7 L1111.0 514.8 L1112.0 510.8 L1113.0 506.0 L1114.1 503.2 L1115.1 497.6 L1116.2 495.0 L1116.3 494.0 L1117.2 487.7 L1118.3 479.6 L1119.4 473.2 L1120.4 466.5 L1121.0 462.6 L1121.5 465.7 L1122.5 468.8 L1123.6 473.0 L1124.6 479.6 L1125.0 480.0 L1125.7 483.0 L1126.7 485.8 L1127.8 487.8 L1128.5 490.5 L1128.8 491.3 L1129.9 496.4 L1131.0 500.8 L1132.0 505.7 L1133.1 511.8 L1133.7 514.8 L1134.1 510.9 L1135.2 501.9 L1136.2 491.9 L1137.2 483.5 L1137.3 482.5 L1138.3 488.5 L1139.4 492.6 L1140.4 496.5 L1140.7 497.4 L1141.5 499.1 L1142.5 501.6 L1143.6 504.4 L1144.7 506.3 L1145.7 508.0 L1146.0 508.0 L1146.8 512.4 L1147.8 518.8 L1148.9 525.5 L1149.9 533.5 L1151.0 538.5 L1151.0 539.0 L1152.0 531.8 L1153.1 524.8 L1154.1 517.0 L1154.6 514.8 L1155.2 513.7 L1156.2 506.9 L1157.3 504.3 L1158.3 500.9 L1159.4 494.9 L1159.8 494.0 L1160.5 492.7 L1161.5 489.7 L1162.6 486.8 L1163.6 484.3 L1164.7 481.6 L1165.0 481.8 L1165.7 483.9 L1166.8 485.4 L1167.0 485.0" fill="none" stroke="#de5a7b" stroke-width="1.05" stroke-linejoin="round"/>
<g font-size="12.9" fill="#3a3a3a" stroke="#3a3a3a" stroke-width="0.2">
<text transform="translate(111.8 676) rotate(-90)" text-anchor="end" dy="4.4">6/3/2019</text>
<text transform="translate(124.4 676) rotate(-90)" text-anchor="end" dy="4.4">6/19/2019</text>
<text transform="translate(137.1 676) rotate(-90)" text-anchor="end" dy="4.4">7/8/2019</text>
<text transform="translate(149.7 676) rotate(-90)" text-anchor="end" dy="4.4">7/24/2019</text>
<text transform="translate(162.4 676) rotate(-90)" text-anchor="end" dy="4.4">8/9/2019</text>
<text transform="translate(175.0 676) rotate(-90)" text-anchor="end" dy="4.4">8/27/2019</text>
<text transform="translate(187.7 676) rotate(-90)" text-anchor="end" dy="4.4">9/13/2019</text>
<text transform="translate(200.3 676) rotate(-90)" text-anchor="end" dy="4.4">10/1/2019</text>
<text transform="translate(213.0 676) rotate(-90)" text-anchor="end" dy="4.4">10/17/2019</text>
<text transform="translate(225.6 676) rotate(-90)" text-anchor="end" dy="4.4">11/4/2019</text>
<text transform="translate(238.3 676) rotate(-90)" text-anchor="end" dy="4.4">11/20/2019</text>
<text transform="translate(250.9 676) rotate(-90)" text-anchor="end" dy="4.4">12/9/2019</text>
<text transform="translate(263.6 676) rotate(-90)" text-anchor="end" dy="4.4">12/26/2019</text>
<text transform="translate(276.2 676) rotate(-90)" text-anchor="end" dy="4.4">1/14/2020</text>
<text transform="translate(288.9 676) rotate(-90)" text-anchor="end" dy="4.4">1/31/2020</text>
<text transform="translate(301.5 676) rotate(-90)" text-anchor="end" dy="4.4">2/19/2020</text>
<text transform="translate(314.2 676) rotate(-90)" text-anchor="end" dy="4.4">3/6/2020</text>
<text transform="translate(326.8 676) rotate(-90)" text-anchor="end" dy="4.4">3/24/2020</text>
<text transform="translate(339.4 676) rotate(-90)" text-anchor="end" dy="4.4">4/9/2020</text>
<text transform="translate(352.1 676) rotate(-90)" text-anchor="end" dy="4.4">4/28/2020</text>
<text transform="translate(364.7 676) rotate(-90)" text-anchor="end" dy="4.4">5/14/2020</text>
<text transform="translate(377.4 676) rotate(-90)" text-anchor="end" dy="4.4">6/2/2020</text>
<text transform="translate(390.0 676) rotate(-90)" text-anchor="end" dy="4.4">6/18/20</text>
<text transform="translate(402.7 676) rotate(-90)" text-anchor="end" dy="4.4">7/7/20</text>
<text transform="translate(415.3 676) rotate(-90)" text-anchor="end" dy="4.4">7/23/20</text>
<text transform="translate(428.0 676) rotate(-90)" text-anchor="end" dy="4.4">8/10/20</text>
<text transform="translate(440.6 676) rotate(-90)" text-anchor="end" dy="4.4">8/26/20</text>
<text transform="translate(453.3 676) rotate(-90)" text-anchor="end" dy="4.4">9/14/20</text>
<text transform="translate(465.9 676) rotate(-90)" text-anchor="end" dy="4.4">9/30/20</text>
<text transform="translate(478.6 676) rotate(-90)" text-anchor="end" dy="4.4">10/16/20</text>
<text transform="translate(491.2 676) rotate(-90)" text-anchor="end" dy="4.4">11/3/20</text>
<text transform="translate(503.9 676) rotate(-90)" text-anchor="end" dy="4.4">11/19/20</text>
<text transform="translate(516.5 676) rotate(-90)" text-anchor="end" dy="4.4">12/8/20</text>
<text transform="translate(529.2 676) rotate(-90)" text-anchor="end" dy="4.4">12/24/20</text>
<text transform="translate(541.8 676) rotate(-90)" text-anchor="end" dy="4.4">1/8/21</text>
<text transform="translate(554.4 676) rotate(-90)" text-anchor="end" dy="4.4">1/20/21</text>
<text transform="translate(567.1 676) rotate(-90)" text-anchor="end" dy="4.4">2/1/21</text>
<text transform="translate(579.7 676) rotate(-90)" text-anchor="end" dy="4.4">2/13/21</text>
<text transform="translate(592.4 676) rotate(-90)" text-anchor="end" dy="4.4">2/25/21</text>
<text transform="translate(605.0 676) rotate(-90)" text-anchor="end" dy="4.4">3/11/21</text>
<text transform="translate(617.7 676) rotate(-90)" text-anchor="end" dy="4.4">3/29/21</text>
<text transform="translate(630.3 676) rotate(-90)" text-anchor="end" dy="4.4">4/14/21</text>
<text transform="translate(643.0 676) rotate(-90)" text-anchor="end" dy="4.4">4/30/21</text>
<text transform="translate(655.6 676) rotate(-90)" text-anchor="end" dy="4.4">5/18/21</text>
<text transform="translate(668.3 676) rotate(-90)" text-anchor="end" dy="4.4">6/4/21</text>
<text transform="translate(680.9 676) rotate(-90)" text-anchor="end" dy="4.4">6/22/21</text>
<text transform="translate(693.6 676) rotate(-90)" text-anchor="end" dy="4.4">7/9/21</text>
<text transform="translate(706.2 676) rotate(-90)" text-anchor="end" dy="4.4">7/27/21</text>
<text transform="translate(718.9 676) rotate(-90)" text-anchor="end" dy="4.4">8/12/21</text>
<text transform="translate(731.5 676) rotate(-90)" text-anchor="end" dy="4.4">8/30/21</text>
<text transform="translate(744.1 676) rotate(-90)" text-anchor="end" dy="4.4">9/16/21</text>
<text transform="translate(756.8 676) rotate(-90)" text-anchor="end" dy="4.4">10/4/21</text>
<text transform="translate(769.4 676) rotate(-90)" text-anchor="end" dy="4.4">10/20/21</text>
<text transform="translate(782.1 676) rotate(-90)" text-anchor="end" dy="4.4">11/5/21</text>
<text transform="translate(794.7 676) rotate(-90)" text-anchor="end" dy="4.4">11/23/21</text>
<text transform="translate(807.4 676) rotate(-90)" text-anchor="end" dy="4.4">12/9/21</text>
<text transform="translate(820.0 676) rotate(-90)" text-anchor="end" dy="4.4">12/27/21</text>
<text transform="translate(832.7 676) rotate(-90)" text-anchor="end" dy="4.4">1/13/22</text>
<text transform="translate(845.3 676) rotate(-90)" text-anchor="end" dy="4.4">1/31/22</text>
<text transform="translate(858.0 676) rotate(-90)" text-anchor="end" dy="4.4">2/16/22</text>
<text transform="translate(870.6 676) rotate(-90)" text-anchor="end" dy="4.4">3/4/22</text>
<text transform="translate(883.3 676) rotate(-90)" text-anchor="end" dy="4.4">3/22/22</text>
<text transform="translate(895.9 676) rotate(-90)" text-anchor="end" dy="4.4">4/7/22</text>
<text transform="translate(908.6 676) rotate(-90)" text-anchor="end" dy="4.4">4/25/22</text>
<text transform="translate(921.2 676) rotate(-90)" text-anchor="end" dy="4.4">5/10/22</text>
<text transform="translate(933.9 676) rotate(-90)" text-anchor="end" dy="4.4">5/26/22</text>
<text transform="translate(946.5 676) rotate(-90)" text-anchor="end" dy="4.4">6/13/22</text>
<text transform="translate(959.1 676) rotate(-90)" text-anchor="end" dy="4.4">6/29/22</text>
<text transform="translate(971.8 676) rotate(-90)" text-anchor="end" dy="4.4">7/15/22</text>
<text transform="translate(984.4 676) rotate(-90)" text-anchor="end" dy="4.4">8/2/22</text>
<text transform="translate(997.1 676) rotate(-90)" text-anchor="end" dy="4.4">8/18/22</text>
<text transform="translate(1009.7 676) rotate(-90)" text-anchor="end" dy="4.4">9/5/22</text>
<text transform="translate(1022.4 676) rotate(-90)" text-anchor="end" dy="4.4">9/21/22</text>
<text transform="translate(1035.0 676) rotate(-90)" text-anchor="end" dy="4.4">10/7/22</text>
<text transform="translate(1047.7 676) rotate(-90)" text-anchor="end" dy="4.4">10/25/22</text>
<text transform="translate(1060.3 676) rotate(-90)" text-anchor="end" dy="4.4">11/10/22</text>
<text transform="translate(1073.0 676) rotate(-90)" text-anchor="end" dy="4.4">11/28/22</text>
<text transform="translate(1085.6 676) rotate(-90)" text-anchor="end" dy="4.4">12/14/22</text>
<text transform="translate(1098.3 676) rotate(-90)" text-anchor="end" dy="4.4">12/30/22</text>
<text transform="translate(1110.9 676) rotate(-90)" text-anchor="end" dy="4.4">1/17/23</text>
<text transform="translate(1123.6 676) rotate(-90)" text-anchor="end" dy="4.4">2/2/23</text>
<text transform="translate(1136.2 676) rotate(-90)" text-anchor="end" dy="4.4">2/20/23</text>
<text transform="translate(1148.9 676) rotate(-90)" text-anchor="end" dy="4.4">3/8/23</text>
<text transform="translate(1161.5 676) rotate(-90)" text-anchor="end" dy="4.4">3/24/23</text>
</g>
<g font-size="12.6" fill="#3a3a3a">
<text x="105.8" y="669.9" text-anchor="end" dy="4.3">$0</text>
<text x="105.8" y="534.5" text-anchor="end" dy="4.3">$2,000</text>
<text x="105.8" y="399.1" text-anchor="end" dy="4.3">$4,000</text>
<text x="105.8" y="263.7" text-anchor="end" dy="4.3">$6,000</text>
<text x="105.8" y="128.3" text-anchor="end" dy="4.3">$8,000</text>
<text x="1174.4" y="669.9" text-anchor="start" dy="4.3">$0</text>
<text x="1174.4" y="489.4" text-anchor="start" dy="4.3">$2,000</text>
<text x="1174.4" y="308.8" text-anchor="start" dy="4.3">$4,000</text>
<text x="1174.4" y="128.3" text-anchor="start" dy="4.3">$6,000</text>
</g>
<text transform="translate(47 430) rotate(-90)" text-anchor="middle" font-size="12.4" fill="#3a3a3a">Volume (million USD)</text>
<text transform="translate(1239.6 430.7) rotate(-90)" text-anchor="middle" font-size="12.4" fill="#3a3a3a">Open Interest (million USD)</text>
</svg>
</body></html>
